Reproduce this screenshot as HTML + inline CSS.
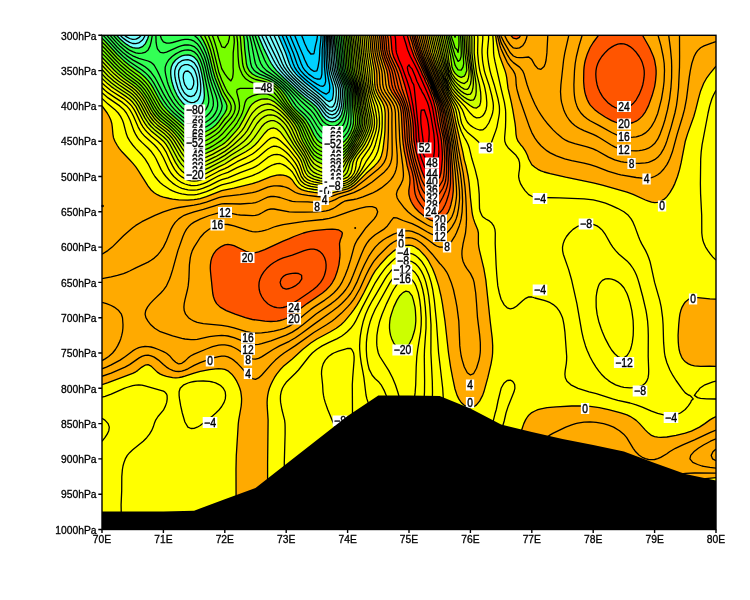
<!DOCTYPE html><html><head><meta charset="utf-8"><style>html,body{margin:0;padding:0;background:#fff}body{width:750px;height:600px;overflow:hidden;position:relative;font-family:"Liberation Sans",sans-serif}</style></head><body><svg width="750" height="600" viewBox="0 0 750 600" style="position:absolute;left:0;top:0;will-change:transform">
<defs><clipPath id="c"><rect x="102" y="35.3" width="614" height="494.2"/></clipPath></defs>
<g clip-path="url(#c)">
<rect x="102" y="35.3" width="614" height="494.2" fill="#0000ff"/>
<path fill="#00d2ff" fill-rule="evenodd" stroke="#00d2ff" stroke-width="0.6" d="M102,35.3 716,35.3 716,529.5 102,529.5 102,35.3Z"/>
<path fill="#77ffff" fill-rule="evenodd" stroke="#77ffff" stroke-width="0.6" d="M102,35.3 278.2,35.3 285.7,53 289.3,63.5 290.9,67.1 293.2,70.6 296.1,74.1 298.5,76.6 304.6,82.2 320.8,95.3 326.1,100 329.2,101.6 332.2,99.7 332.5,98.8 333.2,95.3 333.5,91.8 333.4,88.2 332.8,84.7 329.6,74.1 328.5,67.1 327.9,60 327.6,52.9 327.7,42.4 327.4,35.3 716,35.3 716,529.5 102,529.5 102,35.3Z"/>
<path fill="#33ff55" fill-rule="evenodd" stroke="#33ff55" stroke-width="0.6" d="M102,35.3 116.6,35.3 120.4,39.3 123.5,42 126.6,44.4 129.6,46.3 132.7,47.6 135.8,48.2 138.8,48.1 141.9,46.9 143.2,45.9 145,44.1 146,42.4 147.7,38.8 148.8,35.3 258.1,35.3 264.2,49.4 269.4,60 271.3,63.5 273.8,67.1 276.6,70.6 283.7,77.7 298.6,91.8 304.6,97 311.7,102.4 315.7,105.9 318.6,109.4 323,116.3 326.1,119.6 329.2,121.3 332.2,121.9 335.3,121.3 338.4,119.3 340.4,116.5 341.5,114.5 342.9,109.4 343.8,102.4 344.3,95.3 344.3,91.8 343.9,88.2 343,84.7 338.9,74.1 337.9,70.6 337.3,67.1 334.3,35.3 716,35.3 716,529.5 102,529.5 102,35.3ZM181.8,55.9 178.8,57.5 175.6,60 172.8,63.5 171.3,67.1 170.7,70.6 170.7,74.1 171.1,77.7 171.8,81.2 172.8,84.7 173.9,88.2 175.4,91.8 177.1,95.3 179.4,98.8 182.2,102.4 184.9,104.9 186.3,105.9 188,107 191,108.3 194.1,108.8 197.2,108.3 200.2,106.5 200.9,105.9 203.1,102.4 204.1,98.8 204.4,95.3 204,88.2 203.1,81.2 201.8,74.1 200.2,67.4 198.7,63.5 197.2,60.5 194.1,57.1 191,55.5 188,54.9 184.9,55.1 181.8,55.9Z"/>
<path fill="#77ff00" fill-rule="evenodd" stroke="#77ff00" stroke-width="0.6" d="M102,38.8 102,38.2 105.1,41.2 117.3,54.5 123.5,60.4 129.6,65.5 141.4,74.1 145.3,77.7 148.1,80.6 151.1,84.8 154.2,89.9 160.3,101.2 163.4,105.9 166.4,109.4 169.9,113 184.9,126.2 188,128.8 191,130.9 194.1,132.4 197.2,133.1 200.2,133.1 203.3,132.5 206.4,131.3 209.4,129.7 212.5,127.7 215.6,125.2 218.7,121.7 224.8,113 226.6,109.4 227,105.9 225.8,102.4 221.7,94.7 215,77.7 213,70.6 209.6,56.5 207.4,49.4 206,45.9 203.3,40.4 200.2,35.3 243.6,35.3 244.1,38.8 244.8,49.4 246.4,63.5 247.3,67.1 249.4,71 252.4,74 255.5,75.8 258.6,77 267.8,80 270.9,81.5 273.9,83.3 276,84.7 280.1,88.2 283.2,91.8 285.8,95.3 292.3,105.9 295.4,109.5 302.8,116.5 305.9,120 308.2,123.6 310.2,127.1 313.8,134.6 316.9,139.5 318.6,141.2 320,142.4 323,143.9 326.1,144.9 329.2,145.3 332.2,145.4 335.3,145 338.4,144.4 341.5,143.2 344.5,141.3 347.6,137.6 350.7,132.3 352.6,127.1 353.4,123.5 353.6,120 353.4,116.5 352.5,105.9 352.4,95.3 352.2,91.8 351.8,88.2 350.9,84.7 347.1,74.1 346.1,70.6 345.5,67.1 343.9,45.9 342.8,35.3 716,35.3 716,529.5 102,529.5 102,38.8Z"/>
<path fill="#ccff00" fill-rule="evenodd" stroke="#ccff00" stroke-width="0.6" d="M351.1,35.3 446,35.3 450.6,56.5 452,67.3 453.3,70.6 455,73.2 458.1,76.1 461.2,77.4 464.3,76.2 465.5,74.1 466.8,70.6 466.3,63.5 464.9,53 464.5,42.4 464,35.3 716,35.3 716,529.5 102,529.5 102,57.2 114.3,70.2 118.4,74.1 123.5,78.2 132.7,84.7 135.8,87.2 138.8,90.1 141.9,93.8 145,98.3 151.1,109.6 153.2,113 155.8,116.5 160.3,121 168,127.1 172.6,131.3 175.2,134.1 178.1,137.7 184.9,147.2 188,150.6 191,153.1 194.1,154.5 197.2,155 200.2,154.9 203.3,154.2 206.4,153.2 212.5,150.4 222.1,144.7 224.8,142.9 227.9,140 236.4,130.6 239.2,127.1 243.2,120.1 249.4,107.9 250.7,105.9 252.4,103.9 255.5,101.6 258.6,100.2 261.6,99.2 264.3,98.8 267.8,99 270.9,100 273.9,101.6 277,104 280.1,106.7 286.2,113.1 292.1,120 294.7,123.6 296.8,127.1 298.5,130.6 301.2,137.7 302.8,141.2 310.8,155.1 313.8,159 316.9,161.3 320,162.9 323,164.1 326.1,164.9 329.2,165.2 332.2,164.9 335.3,164 338.4,162.4 341.5,160.3 344.5,157.3 347.6,153.6 350.7,149.4 353.8,144.7 357.6,137.7 361,130.6 362.1,127.1 362.8,123.5 362.9,120 362.5,116.5 360.7,105.9 359.6,95.3 358.6,88.2 354.5,70.6 354.1,67.1 352,42.4 351.1,35.3Z"/>
<path fill="#ffff00" fill-rule="evenodd" stroke="#ffff00" stroke-width="0.6" d="M360,35.3 436.5,35.3 441.3,56.5 443.9,67.1 446.1,74.1 448.6,81.2 452,88.3 455.1,92.3 458.1,95.6 464.3,101.2 470.4,105.8 473.5,107.6 476.5,108.1 479.6,105.8 480.6,102.4 480.9,98.8 480.8,95.3 480.6,91.8 479.4,84.7 476.5,72.6 474.9,60 474.2,52.9 474.4,38.8 474.2,35.3 716,35.3 716,529.5 102,529.5 102,78.4 108.1,84.1 111.2,86.6 114.3,88.8 126.6,96.9 129.6,99.3 132.7,102.3 135.8,106.4 142.8,120 145,123.7 147.5,127.1 151.1,130.9 154.2,133.6 159.4,137.7 163.4,141.2 166.2,144.7 168.4,148.3 175.4,162.4 178.8,167.6 181.8,171 184.9,173.4 188,175 191,176.1 194.1,176.5 197.2,176.3 200.2,175.7 203.3,174.6 206.4,173.3 218.7,166.9 224.8,164 234,158.1 245.7,151.8 251.1,148.3 255.2,144.7 258.4,141.2 264.7,133.2 267.8,130 270.9,128.4 273.9,128 277,129.2 280.1,131.7 283.1,135.6 298.5,156.3 300.1,158.8 301.5,161.6 304.1,169.4 305.6,173 307.7,176 310.8,177.9 313.8,179.2 316.6,180 320,180.8 326.1,181.6 329.2,181.7 332.2,181.5 335.3,181.1 340.8,180 344.5,178.7 347.6,177.1 348.3,176.5 350.7,173.2 351.8,169.4 353,162.4 354.5,158.8 356.8,155.2 362.2,148.3 364.6,144.7 368.1,137.7 369.6,134.1 370.9,130.6 371.8,127.1 372.2,123.6 372.1,120 371.7,116.5 366.7,91.8 365,81.2 361.6,52.9 360,35.3ZM402.9,292.6 399.8,295.7 397,300.1 393.7,307.1 391.3,314.2 390.3,317.7 389.8,321.2 389.5,324.8 389.5,328.3 389.9,331.8 390.6,335.4 391.8,338.9 393.6,342.8 396.7,346.9 399.8,349.1 402.9,349.6 405.9,348.1 409,344.5 412.1,338.5 414.2,331.8 415,328.3 415.5,324.8 415.8,321.2 415.8,317.7 415.4,310.6 415,307.1 413.4,300.1 412.1,295.9 409,291.9 405.9,291.2 402.9,292.6Z"/>
<path fill="#ffaa00" fill-rule="evenodd" stroke="#ffaa00" stroke-width="0.6" d="M369.5,35.3 427,35.3 429.3,45.9 431,52.9 435.7,67.1 439.7,77.7 443.9,88.2 445.4,91.8 450.6,102.4 453.3,109.4 454.1,113 456.1,123.5 462.8,151.8 464.3,159.8 466,165.9 468.2,176.5 469.2,183.6 470.4,197.5 472,211.8 473.5,218.9 474.7,222.4 477.6,229.4 478.4,233 478.4,243.6 478.8,247.1 479.5,250.6 483.8,268.3 485.1,275.3 486.1,282.4 490.2,321.2 492.3,338.9 492.7,345.9 492.8,349.5 492.3,356.5 491.1,363.6 489.6,370.6 485.8,385.5 483.9,391.8 482.7,395.2 480.9,398.9 479.6,401.1 476.5,404.9 473.5,407 470.4,407.6 467.3,406.9 464.3,405.3 461.2,402.5 458.8,398.9 457.1,395.4 455,389 452.6,377.7 450.6,367.1 448.5,353 445,321.2 442.4,303.6 441.1,296.5 438.6,285.9 437.5,282.4 435.2,275.3 432.4,268.3 428.7,261.2 426.3,257.7 424.3,255.2 420,250.6 418.2,249.1 415.1,247 412.1,245.6 409,245.1 405.9,245.3 402.9,246 400.1,247.1 396.7,248.9 393.6,251.1 390.6,253.7 387.5,256.5 380,264.8 375.2,270.9 372.2,275.9 363.7,293 359.9,300.1 356.8,305.3 353.7,309.8 350.7,313.9 344.5,321.4 341,324.8 338.4,326.9 335.3,329 330.4,331.8 316.9,339 311.6,342.4 306.9,345.9 302.6,349.5 292.3,358.9 282.6,367.1 279.4,370.6 276.7,374.2 274.4,377.7 272.5,381.2 269.4,388.3 268.4,391.8 267.7,395.4 267.3,398.9 267.2,405.9 268.1,420.1 267.6,462.4 267.6,529.5 236.2,529.5 236,469.5 236.3,455.4 238.3,423.6 238.7,420.1 241.2,406 241.5,402.4 241.6,398.9 241.3,395.4 240.8,391.8 239.8,388.3 238.4,384.8 236.7,381.2 234.5,377.7 231.8,374.2 227.9,370.8 224.8,369.4 221.7,368.8 218.7,368.7 215.6,368.8 209.4,369.6 200.2,371.4 194.1,373.1 184.9,376.2 181.8,377 178.8,377.6 175.7,377.8 172.6,377.6 166.5,376.3 163.4,375.4 160.3,374.1 157.3,372.1 151.1,366.1 148.1,364.7 145,365.2 141.9,367.1 137.6,370.6 135.8,371.8 132.7,373.3 108.1,382.6 102,384.6 102,105.9 107.2,113 109.2,116.5 110.8,120 111.8,123.5 112.3,127.1 112.9,134.1 113.5,137.7 114.9,141.2 117.3,145.5 119.2,148.3 122,151.8 129.6,159.7 132.7,163.1 135.8,166.9 138.8,171.3 148.1,186.1 151.1,190 154.2,192.8 157.3,194.7 160.3,196.1 163.4,197.1 169.5,198.5 172.6,199.1 178.8,199.8 188,200.1 194.1,199.7 197.2,199.2 200.2,198.6 206.4,196.7 221.7,190.6 234,188.2 252.4,183.7 258.6,181.6 267.8,177.8 270.9,176.7 273.9,175.8 277,175.1 280.1,174.9 283.1,175.2 286.2,175.9 289.3,177.3 292.3,180 294.7,183.6 297.7,187.1 298.5,187.7 301.5,189.6 304.6,190.7 307.7,191.4 313.8,192.4 320,193.1 326.1,193.4 329.2,193.2 332.2,192.8 344.5,189.7 347.6,188.8 350.7,187.4 353.7,185.4 356.8,182.8 366,173.6 374.5,165.9 377.8,162.4 380.1,158.8 381.4,155.7 382.4,151.8 383.1,148.3 384.4,137.7 385,130.6 385.2,116.5 385.2,113 384.8,109.4 384,105.9 382.4,102.4 378.2,95.3 376.5,91.8 375.3,88.2 374.8,84.7 374.6,81.2 374.4,74.1 374.2,70.6 371.1,52.9 370,38.8 369.5,35.3ZM495.6,35.3 716,35.3 716,66.1 709.9,73.6 706.9,77.7 703.7,83.2 701.6,88.2 699.3,95.3 695.8,109.4 693.8,116.5 687.5,134.1 685.3,141.2 680.4,165.9 679.2,171 677.5,176.5 674.8,183.6 673,187.4 669.9,192.7 666.9,196.6 663.8,199.4 660.7,201.3 657.7,202.4 654.6,202.6 651.5,202.2 648.5,201.2 645.4,200 632.8,194.1 627,192.1 596.3,183.6 587.1,181.6 568.6,177.9 550.2,173.7 544.1,172 541,170.8 537.9,169.3 534.9,167.3 531.8,164.7 528.7,159 527.4,155.3 525.7,151.7 522.6,146.9 520.6,144.7 518,141.2 516.6,137.7 516,134.1 515.5,127.1 515.1,123.6 512.7,109.4 511.3,102.4 508,88.2 506.7,77.7 506,74.1 505,70.6 499.8,56.5 498.9,52.9 496.6,42.4 495.6,35.3ZM687.5,300.1 688.4,299.4 691.4,298.1 694.5,297.6 697.6,297.6 709.9,298.9 716,299.1 716,366.4 709.9,366.2 697.6,366.1 694.5,365.8 691.4,365.1 688.4,363.9 685.3,361.7 683.7,360.1 681.4,356.5 680,353 679.2,349.6 678.3,342.4 678.1,338.9 678.2,331.8 679.2,319.5 679.9,314.2 680.8,310.6 682.1,307.1 684.1,303.6 685.3,302 687.5,300.1ZM571.8,405.9 584,406 590.1,406.4 596.3,407.2 608.5,409.7 617.8,412 623.9,413.8 627,414.9 630,416.3 633.1,418.2 635.8,420.1 639.6,423.6 645.4,430.1 648.5,433.1 651.5,435.4 654.6,436.6 657.7,437.2 660.7,437.4 663.8,437.3 669.9,436.5 679.2,434.7 688.4,432.2 692.4,430.7 699.5,427.1 704.8,423.6 709.9,419.9 712.9,418.1 716,416.6 716,477.6 700.7,479.2 695.3,480.1 691.4,481 688.4,482.1 685.3,483.5 682.2,485.9 681.1,487.1 679,490.7 677.9,494.2 677.4,497.7 677.1,501.3 677,508.3 677.9,529.5 513.7,529.5 513.6,501.3 513.8,480.1 514.2,469.5 514.7,462.4 516.2,451.8 518.5,441.2 520.4,434.2 522.5,427.1 523.8,423.6 525.4,420.1 528.7,415.3 531.3,413 534.9,411 538.8,409.5 544.1,408.2 550.2,407.3 559.4,406.6 571.8,405.9Z"/>
<path fill="#ff5500" fill-rule="evenodd" stroke="#ff5500" stroke-width="0.6" d="M379.4,35.3 417.1,35.3 420.9,49.4 423.3,56.5 436.6,89.7 442.2,102.4 443.5,105.9 445.3,113 450.6,144.7 452.8,173 453.3,183.6 453.3,190.6 453,194.1 451.8,201.2 449.8,208.3 448.9,210.5 448.3,211.8 445.7,215.3 442.8,218.3 439.7,220.3 436.6,221.1 433.6,221.1 430.5,220.2 427.4,218.5 424.3,216.3 418.8,211.8 415.4,208.3 412.9,204.7 411,201.2 409.7,197.7 408.9,194.1 408.8,190.6 409.8,183.6 410,180 409.7,176.5 409,172.7 407.2,165.9 405.9,158.7 404.4,151.8 403.3,144.7 402.6,137.7 401.5,116.5 401.3,113 400.7,109.4 400,105.9 398.3,102.4 396.3,98.8 391.6,91.8 389.9,88.2 388.9,84.7 387.6,74.1 386.9,70.6 382.2,56.5 381.4,52.9 380.8,49.4 379.9,38.8 379.4,35.3ZM510.6,35.3 520.6,35.3 519.5,37.3 516.5,38.8 513.4,38.2 510.6,35.3ZM596,38.8 598.5,35.3 642.5,35.3 648.5,45.7 650.4,49.4 652,52.9 654.5,60 655.3,63.5 655.8,67.1 656.1,70.6 655.9,77.7 655.5,81.2 654.6,86.6 653.3,91.8 651.5,97.5 648.5,105.6 646.7,109.4 644.6,113 642.3,116.1 639.2,119.1 636.2,121.2 633.1,122.5 630,123.4 627,123.9 623.9,124 620.8,123.8 617.8,123 614.7,121.9 611.6,120.6 604.3,116.5 599,113 594.4,109.4 591,105.9 590.1,104.8 588.6,102.4 587.1,99.2 585.7,95.3 584.8,91.8 583.8,84.7 583.6,81.2 583.6,74.1 584.1,67.1 585.4,60 586.4,56.5 587.7,52.9 590.1,47.5 593.2,42.5 596,38.8ZM326.7,229.4 332.2,229.2 335.3,229.3 338.4,229.8 341.5,231.7 342.4,233 341.7,236.5 340.3,240 339.5,243.6 340,254.2 339.8,257.7 338.9,264.8 337.1,271.8 335.3,276.7 334.4,278.9 332.2,282.8 330,285.9 326.1,290 322.5,293 307.1,303.6 292.3,314.7 289.3,316.8 286.2,318.5 283.1,319.7 280.1,320.5 277,321.1 273.9,321.4 270.9,321.5 264.9,321.2 252.4,319.5 245.4,317.7 235.2,314.2 226.3,310.6 220.2,307.1 216.6,303.6 214.6,300.1 213.4,296.5 212.7,293 210.5,271.8 210.3,268.3 210.4,264.8 210.9,261.2 211.8,257.7 213.4,254.2 216,250.6 218.7,248.3 220.4,247.1 221.7,246.3 224.8,244.9 227.9,244.4 230.9,244.8 234,245.7 246.3,251.5 249.4,252.4 252.4,252.8 255.5,252.6 258.6,251.9 264.7,249.6 283.1,241.1 289.3,238.7 294,236.5 303.5,233 307.7,231.9 313.8,230.7 326.7,229.4Z"/>
<path fill="#ff0000" fill-rule="evenodd" stroke="#ff0000" stroke-width="0.6" d="M390.4,35.3 407.3,35.3 410.3,45.9 414.1,56.5 421.3,71.5 422.2,74.1 424.4,78.3 425.4,81.2 427.4,85.2 430.5,92.7 433.6,101.3 435.6,109.4 437.9,123.5 439.7,131.2 441.5,141.2 442.3,151.8 442.4,158.8 441.4,169.4 440.9,173 440,176.5 439.7,177.3 436.6,180.9 433.6,182.7 430.5,182.6 427.4,180.6 424.3,177.2 421.3,169.7 418.2,159.7 415.3,148.3 414.1,141.2 413.7,137.7 413.3,127.1 413,123.5 412.1,116.5 410.1,105.9 408.4,98.8 404.6,84.7 401.3,74.1 398.6,67.1 393.6,56.9 392.4,52.9 391.8,49.4 391,38.8 390.4,35.3Z"/>
<path fill="none" stroke="#000" stroke-width="1.3" stroke-linejoin="round" d="M301.5,35.3 303,38.8 304.6,43.3 307.7,50 310.8,54 313.8,53.9 314.1,52.9 315.4,45.9 316.9,40 317.5,35.3M294.6,35.3 298.5,45 303.5,56.5 304.6,59.5 307.7,65.9 310.8,69.4 313.8,71.3 316.9,70.8 318,67.1 319.2,60 319.7,52.9 319.8,49.4 320.9,38.8 321.1,35.3M289.9,35.3 297.3,53 301.1,63.5 302.7,67.1 304.6,70 308.6,74.1 313.8,77.8 316.9,79 320,79.1 321.1,77.7 321.9,74.1 322.2,49.4 323,41.1 323.1,35.3M285.9,35.3 293.3,53 296.9,63.5 298.4,67.1 300.6,70.6 304.6,75 307.7,77.8 312.4,81.2 316.9,84.1 320,85.8 323,86.3 324.8,84.7 325.7,81.2 325.5,77.7 324.5,67.1 324.2,56.5 324.2,49.4 324.7,38.8 324.6,35.3M282.1,35.3 289.5,52.9 293.1,63.5 294.6,67.1 296.8,70.6 299.7,74.1 301.5,76 307.7,81.4 320,90.7 323,92.7 326.1,94.2 329.2,91.9 329.8,88.2 329.6,84.7 327.5,74.1 326.6,67.1 325.9,52.9 326.3,42.4 326.1,35.3M278.2,35.3 285.7,53 289.3,63.5 290.9,67.1 293.2,70.6 296.1,74.1 298.5,76.6 304.6,82.2 320.8,95.3 326.1,100 329.2,101.6 332.2,99.7 332.5,98.8 333.2,95.3 333.5,91.8 333.4,88.2 332.8,84.7 329.6,74.1 328.5,67.1 327.9,60 327.6,52.9 327.7,42.4 327.4,35.3M274,35.3 281.8,52.9 285.7,63.5 287.5,67.1 289.8,70.6 292.7,74.1 296.1,77.7 299.9,81.2 307.7,88 316.9,95.2 320,97.9 324.5,102.4 326.1,104.2 329.2,106.8 332.2,107.1 333.5,105.9 335.3,101.9 336.2,95.3 336.3,91.8 336.1,88.2 335.3,84.7 331.7,74.1 330.8,70.6 330.3,67.1 329.4,56.5 329.2,42.4 328.7,35.3M132.7,35.3 132.7,35.3M269.7,35.3 277.9,52.9 282.3,63.5 284.2,67.1 286.7,70.6 289.6,74.1 293,77.7 301.5,85.7 307.7,91 313.8,95.6 317.8,98.8 321.4,102.4 326.1,108 329.2,110.6 332.2,111.3 335.3,109.4 336.9,105.9 337.7,102.4 338.3,98.8 338.6,95.3 338.7,91.8 338.4,88.2 337.4,84.7 333.6,74.1 332.7,70.6 332.1,67.1 331.4,60 330.9,52.9 330.6,42.4 330,35.3M184.9,71.5 183.5,74.1 183.2,77.7 183.8,81.2 184.8,84.7 187.1,88.2 188,89.1 191,89.4 192.1,88.2 193.6,84.7 193.8,81.2 193,77.7 191,73.4 188,71 184.9,71.5M124.3,35.3 126.6,36.9 129.6,38.5 132.7,39.4 135.8,39.2 136.6,38.8 138.8,37.7 141.3,35.3M265.5,35.3 268.7,42.4 279,63.5 281.1,67.1 283.6,70.6 286.6,74.1 290,77.7 301.5,88.6 307.7,93.7 314.5,98.8 318.5,102.4 321.7,105.9 326.1,111.7 329.2,114.1 332.2,114.9 335.3,113.7 336,113 338.4,109.3 339.3,105.9 339.9,102.4 340.6,95.3 340.6,91.8 340.3,88.2 339.4,84.7 335.4,74.1 334.5,70.6 333.9,67.1 333.1,60 332,42.4 331.4,35.3M181.8,66 180.7,67.1 178.8,70.6 178.5,74.1 178.8,77.7 180.5,84.7 181.8,88.4 183.7,91.8 184.9,93.4 188,96 191,96.6 194.2,95.3 196.4,91.8 197.2,89.4 197.7,84.7 197.5,81.2 197.1,77.7 196.1,74.1 194.8,70.6 194.1,69.2 192.2,67.1 191,66 188,64.7 184.9,64.7 181.8,66M120.1,35.3 123.5,38.4 126.6,40.6 129.6,42.4 132.7,43.5 135.8,43.7 138.8,42.9 141.9,40.6 143.3,38.8 145.3,35.3M261.6,35.3 267.8,48.7 273.5,60 275.4,63.5 277.7,67.1 280.4,70.6 283.5,74.1 286.9,77.7 301.5,91.5 307.7,96.5 313.8,101.1 316.9,103.8 318.9,105.9 323,111.7 326.1,115.5 329.2,117.6 332.2,118.3 335.3,117.5 338.4,114.6 339.4,113 340.7,109.4 341.5,105.9 342.5,95.3 342.5,91.8 342.2,88.3 341.3,84.7 337.2,74.1 336.2,70.6 335.6,67.1 334.8,60 333.6,42.4 332.8,35.3M184.9,59.8 181.8,60.7 178.8,62.8 178,63.5 175.8,67.1 174.8,70.6 174.7,74.1 175.1,77.7 175.8,81.2 177.9,88.2 179.4,91.8 181.8,95.9 184.3,98.8 184.9,99.4 188,101.6 191,102.6 194.1,102.4 197.2,100.6 198.5,98.8 200,95.3 200.2,94.2 200.6,91.8 200.8,88.2 200.7,84.7 200.2,79.8 199.2,74.1 198.3,70.6 197.2,67.3 194.1,62.7 191,60.6 188,59.7 184.9,59.8M116.6,35.3 120.4,39.3 123.5,42 126.6,44.4 129.6,46.3 132.7,47.6 135.8,48.2 138.8,48.1 141.9,46.9 143.2,45.9 145,44.1 146,42.4 147.7,38.8 148.8,35.3M258.1,35.3 264.2,49.4 269.4,60 271.3,63.5 273.8,67.1 276.6,70.6 283.7,77.7 298.6,91.8 304.6,97 311.7,102.4 315.7,105.9 318.6,109.4 323,116.3 326.1,119.6 329.2,121.3 332.2,121.9 335.3,121.3 338.4,119.3 340.4,116.5 341.5,114.5 342.9,109.4 343.8,102.4 344.3,95.3 344.3,91.8 343.9,88.2 343,84.7 338.9,74.1 337.9,70.6 337.3,67.1 334.3,35.3M181.8,55.9 178.8,57.5 175.6,60 172.8,63.5 171.3,67.1 170.7,70.6 170.7,74.1 171.1,77.7 171.8,81.2 172.8,84.7 173.9,88.2 175.4,91.8 177.1,95.3 179.4,98.8 182.2,102.4 184.9,104.9 186.3,105.9 188,107 191,108.3 194.1,108.8 197.2,108.3 200.2,106.5 200.9,105.9 203.1,102.4 204.1,98.8 204.4,95.3 204,88.2 203.1,81.2 201.8,74.1 200.2,67.4 198.7,63.5 197.2,60.5 194.1,57.1 191,55.5 188,54.9 184.9,55.1 181.8,55.9M113.3,35.3 117.3,39.8 120.4,42.9 123.5,45.7 126.6,48.1 129.6,50.2 132.7,51.7 135.8,52.8 138.8,53.3 141.9,53.2 145,52.4 148.1,49.9 150.1,45.9 151.1,41.8 152.3,35.3M255,35.3 260.3,49.4 264.6,60 266.4,63.5 268.8,67.1 272,70.6 286.2,82.9 301.5,97.7 311.6,105.9 313.8,108.1 316.9,112.1 320,117.2 321.9,120 323,121.5 326.1,124 329.2,125.4 332.2,126.1 335.3,125.8 338.4,124.3 341.5,120.9 341.9,120 343.4,116.5 344.5,112.6 345.1,109.4 345.4,105.9 346.1,95.3 346,91.8 345.6,88.2 344.7,84.7 340.6,74.1 339.6,70.6 338.9,67.1 336.7,42.4 335.9,35.3M178.8,52.2 175.7,53.9 172.1,56.5 168.6,60 166.5,63.5 165.2,67.1 165.1,70.6 165.6,74.1 167.2,81.2 168.3,84.7 171.1,91.8 172.9,95.3 174.9,98.8 178.8,104.1 181.8,107.4 184.9,110 188,112 191,113.5 194.1,114.3 197.2,114.3 200.2,113.6 203.3,111.9 205.9,109.4 207.8,105.9 208.7,102.4 208.8,98.8 207.8,91.8 203.6,70.6 202.7,67.1 201.6,63.5 200.2,59.9 198.3,56.5 197.2,54.7 194.1,51.8 191,50.4 188,50 184.9,50.2 181.8,50.9 178.8,52.2M110,35.3 116.3,42.4 120.4,46.6 126.6,51.9 129.6,54 132.7,55.8 135.8,57.2 138.8,58.3 148.1,61 151.1,62.4 152.5,63.5 154.2,65.3 157.3,70.7 158.9,74.1 165.1,88.2 168.6,95.3 172.6,101.9 175.6,105.9 178.8,109.4 181.8,112.1 184.9,114.5 188,116.6 191,118.2 194.1,119.2 197.2,119.5 200.2,119.2 203.3,118.1 206.4,116.2 209.4,113.3 212,109.4 213.2,105.9 213.4,102.4 213,98.8 212.2,95.3 208.3,81.2 205.2,67.1 204.2,63.5 203.1,60 200.2,53.6 197.2,49.2 194.1,46.6 191,45.3 188,44.8 184.9,45 181.8,45.6 178.8,46.6 166.5,52.1 163.4,52.9 160.3,52.4 157.8,49.4 157.3,48.3 156.7,45.9 156.1,42.4 155.9,35.3M252.3,35.3 259.5,60 260.8,63.5 263,67.1 266.5,70.6 273.9,75.7 280.1,80.4 283.1,83 288.7,88.2 301.5,101.6 310.1,109.4 313.8,113.7 320,123.5 323,126.9 326.1,129.2 329.2,130.5 332.2,131.1 335.3,130.9 338.4,129.9 341.8,127.1 344,123.6 345.3,120 346.1,116.5 346.7,113 347.1,109.4 347.7,95.3 347.7,91.8 347.2,88.2 346.3,84.7 342.2,74.1 341.2,70.6 340.2,63.5 339.4,52.9 337.6,35.3M106.7,35.3 117.3,47.2 123.5,53.1 126.6,55.6 132.7,59.9 141.9,64.9 145,66.8 148.1,69.2 151.1,72.3 155,77.7 157.3,81.7 163.4,93.6 166.5,98.8 171.3,105.9 174.4,109.4 178.1,113 181.8,116.2 188,120.8 191,122.6 194.1,123.8 197.2,124.3 200.2,124.1 203.3,123.2 206.4,121.8 209.4,119.7 212.9,116.5 215.4,113 217,109.4 217.7,105.9 217.6,102.4 216.9,98.8 215.9,95.3 212.5,86.3 210.9,81.2 209.4,76 206.4,62.5 204.5,56.5 203.3,53.6 200.2,47.7 197.2,43.7 194.1,41.2 191,39.9 188,39.4 184.9,39.4 181.8,39.9 172.6,42.5 169.5,43.1 166.5,43.1 163.4,41.8 161.4,38.8 160.2,35.3M249.6,35.3 251.3,42.4 254.6,60 255.4,63.5 257.1,67.1 260.4,70.6 266.1,74.1 270.9,76.6 273.9,78.5 280.1,83.1 283.1,85.8 289.1,91.8 292.1,95.3 298.5,103.4 300.8,105.9 307.7,112.5 310.8,115.8 313.6,120 316.9,125.5 320.5,130.6 323,133.1 326.1,135.1 329.2,136.1 332.2,136.4 335.3,136.1 338.4,135.1 341.5,133.4 344.3,130.6 346.4,127.1 347.6,123.8 348.3,120 348.7,116.5 348.9,113 349.3,95.3 349.2,91.8 348.8,88.2 347.9,84.7 343.8,74.1 342.8,70.6 342.2,67.1 340.5,45.9 339.3,35.3M103,35.3 105.1,37.4 117.3,50.8 123.5,56.8 129.6,61.7 141.9,70 145,72.4 148.1,75.4 151.1,79 154.2,83.7 160.3,95.1 163.4,100.3 167.3,105.9 170.3,109.4 173.9,113 178.8,117.3 184.9,122.5 188,124.8 191,126.8 194.1,128.1 197.2,128.7 200.2,128.6 203.3,127.9 206.4,126.7 209.4,124.9 212.5,122.6 215.6,119.8 218.7,115.3 220,113 221.5,109.4 222.2,105.9 221.5,102.4 220.4,98.8 212.5,78.2 211.4,74.1 208.1,60 205.9,52.9 203.3,47 200.2,41.7 197.2,37.9 194.1,35.3M246.7,35.3 248,42.4 248.6,49.4 250.7,63.5 251.8,67.1 254.3,70.6 255.5,71.6 259.6,74.1 264.7,76.2 270.9,79.1 273.9,81 277,83.1 280.1,85.7 282.9,88.2 286.1,91.8 288.9,95.3 296,105.9 299.3,109.4 304.6,114.3 307.7,117.6 309.6,120 311.8,123.5 316.9,132.8 320,136.9 323,139.1 326.1,140.5 329.2,141.1 332.2,141.2 335.3,140.8 338.4,139.9 341.5,138.6 344.5,136.2 347.6,132.3 348.5,130.6 349.9,127.1 350.8,123.5 351.1,116.5 350.8,105.9 350.9,95.3 350.8,91.8 350.3,88.2 349.4,84.7 345.4,74.1 344.4,70.6 343.8,67.1 342.8,52.9 341.1,35.3M102,38.2 105.1,41.2 117.3,54.5 123.5,60.4 129.6,65.5 138.8,72.1 141.9,74.5 145,77.3 148.1,80.6 151.1,84.7 153.3,88.2 160.3,101.2 163.4,105.9 166.4,109.4 169.9,113 184.9,126.2 188,128.8 191,130.9 194.1,132.4 197.2,133.1 200.2,133.1 203.3,132.5 206.4,131.3 209.4,129.7 212.5,127.7 215.6,125.2 218.7,121.7 224.8,113 226.6,109.4 227,105.9 225.8,102.4 221.7,94.7 215,77.7 213,70.6 209.6,56.5 207.4,49.4 206,45.9 203.3,40.4 200.2,35.3M243.6,35.3 244.1,38.8 244.8,49.4 246.4,63.5 247.3,67.1 249.4,71 252.4,74 255.5,75.8 258.6,77 267.8,80 270.9,81.5 273.9,83.3 276,84.7 280.1,88.2 283.2,91.8 285.8,95.3 292.3,105.9 295.4,109.5 302.8,116.5 305.9,120 308.2,123.6 310.2,127.1 313.8,134.6 316.9,139.5 318.6,141.2 320,142.4 323,143.9 326.1,144.9 329.2,145.3 332.2,145.4 335.3,145 338.4,144.4 341.5,143.2 344.5,141.3 347.6,137.6 350.7,132.3 352.6,127.1 353.4,123.5 353.6,120 353.4,116.5 352.5,105.9 352.4,95.3 352.2,91.8 351.8,88.2 350.9,84.7 347.1,74.1 346.1,70.6 345.5,67.1 343.9,45.9 342.8,35.3M240,35.3 240.5,38.8 241.3,49.4 242.6,63.5 243.4,67.1 244.7,70.6 246.3,73 247.2,74.1 249.4,76.3 252.4,78.2 255.5,79.5 264.7,81.6 267.8,82.5 270.9,83.8 272.4,84.7 273.9,85.7 277.2,88.2 280.3,91.8 282.8,95.3 287.1,102.4 289.6,105.9 292.5,109.4 302.7,120 305.2,123.5 307.1,127.1 310.8,134.9 313.8,140.9 316.9,144.7 320,146.8 323,148.1 326.1,148.9 329.2,149.3 332.2,149.3 335.3,148.9 338.4,148.2 341.5,147.1 344.5,145.1 347.6,141.8 350.7,136.8 353.8,130.6 354.9,127.1 355.6,123.5 355.7,120 355.5,116.5 354.2,105.9 353.7,91.8 353.2,88.2 352.3,84.7 348.7,74.1 347.7,70.6 346.8,63.5 346.2,52.9 344.5,35.3M454.4,35.3 455,37.3 455.7,35.3M102,42 105.1,45 117.3,58.2 123.5,64.1 129.6,69.2 138.8,76 141.9,78.6 145,81.7 148.1,85.4 151.1,90 160.3,106.4 162.6,109.4 166.1,113 178,123.5 188,132.7 191,135.1 194.1,136.7 197.2,137.5 200.2,137.5 203.3,136.9 206.4,135.8 209.6,134.1 215.6,130.1 218.8,127.1 224.8,119 227.9,115.6 229.7,113 231.1,109.4 231.2,105.9 230,102.4 224.8,94.2 223.5,91.8 221.7,87.9 217.7,77.7 215.6,70.9 213.1,60 210.3,49.4 207.7,42.4 204.4,35.3M236.8,35.3 237.6,42.4 238.1,56.5 238.7,63.5 239.3,67.1 240.5,70.6 242.1,74.1 243.2,75.8 244.7,77.7 246.3,79.3 249.4,81.3 252.4,82.6 255.5,83.4 264.7,84.5 267.8,85.3 270.9,86.6 273.9,88.4 277.2,91.8 280.1,95.6 284.5,102.4 287.2,105.9 292.3,111.9 299.9,120 302.5,123.5 304.4,127.1 310.8,140.9 313.8,145.9 316.9,149 320,150.8 323,152 326.1,152.8 329.2,153.1 332.2,153 335.3,152.5 338.4,151.7 341.5,150.5 344.5,148.4 347.9,144.7 350.7,140.5 353.7,134.8 355.6,130.6 356.8,127.2 357.6,123.5 357.7,120 357.4,116.5 355.8,105.9 355.1,91.8 354.6,88.2 353.8,84.7 350.3,74.1 349.4,70.6 348.8,67.1 347.3,45.9 346.2,35.3M451.2,35.3 452,38.6 453.4,42.4 455,47.7 456.9,49.4 458.1,52.5 458.9,45.9 459,42.4 458.8,35.3M102,45.8 105.1,48.8 114.3,58.7 120.4,64.9 126.8,70.6 138.8,79.7 141.9,82.5 144,84.7 146.8,88.2 149.2,91.8 157.3,106.3 159.3,109.4 162.4,113 175.7,124.7 188,136.9 191,139.5 194.1,141.2 197.2,142 200.2,142.1 203.3,141.5 206.4,140.4 209.4,138.8 215.6,134.8 218.7,132.3 220.3,130.6 225.9,123.5 230.9,118 232,116.5 234,113 235.1,109.4 235.2,105.9 234.3,102.4 232.6,98.8 227.9,92.7 225.5,88.2 221.7,79.9 218.7,71.9 213.3,49.4 211.1,42.4 208.3,35.3M233.8,35.3 234.2,38.8 234.3,42.4 233.2,52.9 233.1,67.1 233.3,70.6 233.1,74.1 232.6,77.7 230.9,80.9 227.9,78.1 224.8,73.9 221.7,68.6 218.7,57.7 217.7,53 215.8,45.9 213.6,38.8 212.2,35.3M449.4,35.3 452,45.6 455,55.4 458.1,61.4 460,60 461.1,56.5 461.3,52.9 461,42.4 460.5,35.3M102,49.6 105.1,52.6 115.3,63.5 120.4,68.6 126.6,73.9 136.4,81.2 138.8,83.2 141.9,86.3 145,90 148.1,94.5 154.3,105.9 156.4,109.4 159,113 162.5,116.5 169.5,122.3 174.8,127.1 178.4,130.6 188,141.3 191,144 194.1,145.7 197.2,146.5 200.2,146.5 203.3,146 206.8,144.7 209.4,143.5 212.5,141.6 218.1,137.7 222.2,134.1 230.9,124.1 234,120.3 236.4,116.5 237.1,115.1 238.1,113 239.2,109.4 239.5,105.9 239.2,102.4 238.5,98.8 236.7,91.8 237.1,89.6 240.1,88.4 264.7,88.5 267.8,89 270.9,90.3 273.9,92.5 277,95.9 281.9,102.4 284.8,105.9 297.2,120 299.9,123.6 301.9,127.1 306.5,137.7 308.2,141.2 310.8,146 313.8,150.4 316.9,153.1 320,154.8 323,155.9 326.1,156.6 329.2,156.9 332.2,156.8 335.3,156.1 338.4,155.1 341.5,153.6 344.5,151.3 347.6,148.1 350.7,143.7 353.7,138.3 355.9,134.1 357.4,130.6 358.6,127.1 359.4,123.5 359.5,120 359.2,116.5 357.5,105.9 356.8,95.3 355.9,88.2 355.1,84.7 351.9,74.1 351.1,70.6 350.6,67.1 349,45.9 347.8,35.3M229.6,35.3 229.2,38.8 228.2,42.4 227.9,43.1 224.8,47.7 221.7,46.8 220.1,42.4 218.7,39.3 217.3,35.3M447.7,35.3 455,64.9 456.2,67.1 458.1,69.9 461.2,70.1 463,67.1 463.7,63.5 463,49.4 462.6,38.8 462.3,35.3M102,53.4 105.1,56.4 114.3,66.3 120.4,72.3 126.6,77.2 135.8,83.9 140.4,88.2 143.3,91.8 145.8,95.3 148.1,99 153.6,109.4 157.3,114.5 160.3,117.8 169.5,125.3 175.1,130.6 178.4,134.1 184.9,142.4 188,145.9 191,148.6 194.1,150.1 197.2,150.8 200.2,150.8 203.3,150.2 206.4,149.2 209.4,147.8 212.5,146.2 215.6,144.3 221.7,140.1 224.8,137.6 234,127.1 237.1,122.8 240.7,116.5 242.3,113 243.5,109.4 245.1,102.4 246.3,99.9 247.2,98.8 249.4,97.3 252.4,95.9 255.5,94.9 258.6,94.2 261.6,93.8 264.7,93.7 267.8,94.1 270.9,95.3 273.9,97.2 277,100.1 280.1,103.4 288.7,113 294.7,120 297.4,123.5 299.4,127.1 303.8,137.7 307.4,144.7 310.8,150.6 313.8,154.7 316.9,157.1 320,158.7 323,159.8 326.1,160.6 329.2,160.9 332.2,160.7 335.3,159.9 338.4,158.5 341.5,156.8 344.5,154.3 347.6,150.8 351.9,144.7 354,141.2 357.6,134.1 359.2,130.6 360.4,127.1 361.1,123.5 361.2,120 360.9,116.5 359.1,105.9 358.2,95.3 357.3,88.3 356.5,84.7 353.6,74.1 352.8,70.6 352.3,67.1 350.7,45.9 349.5,35.3M446,35.3 450.6,56.5 452,67.3 453.3,70.6 455,73.2 458.1,76.1 461.2,77.4 464.3,76.2 465.5,74.1 466.8,70.6 466.3,63.5 464.9,53 464.5,42.4 464,35.3M102,57.2 114.3,70.2 118.4,74.1 123.5,78.2 132.7,84.7 135.8,87.2 138.8,90.1 141.9,93.8 145,98.3 151.1,109.6 153.2,113 155.8,116.5 160.3,121 168,127.1 172.6,131.3 175.2,134.1 178.1,137.7 184.9,147.2 188,150.6 191,153.1 194.1,154.5 197.2,155 200.2,154.9 203.3,154.2 206.4,153.2 212.5,150.4 222.1,144.7 224.8,142.9 227.9,140 236.4,130.6 239.2,127.1 243.2,120.1 249.4,107.9 250.7,105.9 252.4,103.9 255.5,101.6 258.6,100.2 261.6,99.2 264.3,98.8 267.8,99 270.9,100 273.9,101.6 277,104 280.1,106.7 286.2,113.1 292.1,120 294.7,123.6 296.8,127.1 298.5,130.6 301.2,137.7 302.8,141.2 310.8,155.1 313.8,159 316.9,161.3 320,162.9 323,164.1 326.1,164.9 329.2,165.2 332.2,164.9 335.3,164 338.4,162.4 341.5,160.3 344.5,157.3 347.6,153.6 350.7,149.4 353.8,144.7 357.6,137.7 361,130.6 362.1,127.1 362.8,123.5 362.9,120 362.5,116.5 360.7,105.9 359.6,95.3 358.6,88.2 354.5,70.6 354.1,67.1 352,42.4 351.1,35.3M444.1,35.3 447.9,53 449.2,63.5 450.9,70.6 452,73.5 455,77.9 458.1,80.7 461.2,82.7 464.3,83.6 467.3,81.3 468.5,77.7 469,74.1 469.1,70.6 466.7,52.9 465.9,35.3M102,61.2 110.8,70.6 114.4,74.1 120.4,79.2 132.7,87.9 135.8,90.5 138.8,93.7 142.7,98.8 144.8,102.4 150.5,113 154.2,118.2 157.3,121.5 160.3,124.2 166.5,128.9 169.5,131.6 172,134.1 175,137.7 177.5,141.2 181.8,147.9 184.9,152.1 188,155.4 191,157.6 194.1,158.8 197.2,159.2 200.2,158.9 203.3,158.2 206.4,157.2 212.5,154.4 224.8,147.4 228.2,144.7 231.8,141.2 238.7,134.1 241.8,130.6 244.2,127.1 250,116.5 252.4,112.9 255.5,109.6 258.6,107.1 261.6,105.3 264.7,104.3 267.8,103.9 270.9,104.5 273.9,105.8 277,107.9 280.1,110.4 283.1,113.3 286.2,116.5 289.3,120.1 291.8,123.6 294,127.1 295.7,130.6 298.5,137.7 300.2,141.2 306.5,151.8 310.8,159.7 313.8,163.5 316.9,165.7 320,167.3 323,168.4 326.1,169.2 328.5,169.4 332.2,169.3 335.3,168.5 338.4,166.9 341.5,164.4 342.9,162.4 344.5,160.7 350.7,152.2 355.6,144.7 357.6,141.2 361.2,134.1 362.7,130.6 363.9,127.1 364.6,123.6 364.6,120 364.2,116.5 362.3,105.9 360.6,91.8 359.4,84.7 356.9,74.1 356.3,70.6 353.7,42.4 352.8,35.3M442.1,35.3 446,52.9 448.3,67.1 449.2,70.6 452,77.2 455,81.4 458.1,84.6 461.2,87.2 464.3,89.1 467.3,89.3 468.5,88.2 470.4,84.3 471,81.2 471.3,77.7 470.9,70.6 469.3,60 468.4,53 467.8,35.3M102,65.2 110.4,74.1 114.2,77.7 118.6,81.2 129.6,88.8 132.7,91.1 137,95.3 139.9,98.8 141.9,102 148.1,113.4 149.9,116.5 152.6,120 154.2,121.9 157.3,124.9 166.5,132.1 169.5,135 171.9,137.7 174.4,141.2 180.9,151.8 183.3,155.3 184.9,157.3 188,160.2 191,162.1 194.1,163.1 197.2,163.3 200.2,163 203.3,162.2 206.4,161.1 212.5,158.2 215.6,156.7 224.8,151.4 229.1,148.3 233.4,144.7 241.1,137.7 244.5,134.1 247.2,130.6 253.3,120 255.5,117.1 258.6,114.1 261.6,111.9 264.7,110.4 267.8,109.6 270.9,109.7 273.9,110.5 277,112.2 280.1,114.4 283.1,117.2 285.8,120 288.6,123.5 290.8,127.1 292.3,129.9 297.4,141.2 299.5,144.7 304.6,152.7 310.8,164.7 313.8,168.1 316.9,170 320,171.4 323,172.4 326.1,173.1 329.2,173.4 332.2,173.3 335.3,172.6 338.4,171.4 341.5,169.2 344.5,164.8 345.7,162.4 357.6,144.7 359.6,141.2 361.4,137.7 364.6,130.6 365.7,127.1 366.3,123.5 366.4,120 365.9,116.5 364,105.9 362.1,91.8 358.1,70.6 355.4,42.4 354.6,35.3M440.3,35.3 444.1,52.9 446.1,63.5 446.9,67.1 448.9,73.9 450.5,77.7 452,80.6 455,84.9 458.1,88.4 461.2,91.2 464.3,93.4 467.3,94.7 470.4,94.2 471.9,91.8 472.9,88.2 473.3,84.7 473.4,81.2 473.2,77.7 470,52.9 469.8,38.8 469.6,35.3M102,69.5 108.1,76 114,81.2 118.8,84.7 129.6,92.1 132.7,94.5 135.8,97.6 139.4,102.4 141.4,105.9 147,116.5 149.4,120 151.1,122.3 154.2,125.6 155.8,127.1 164.8,134.1 168.5,137.7 171.2,141.2 172.6,143.4 178.8,154.3 181.8,159 184.9,162.5 188,165 191,166.6 194.1,167.5 197.2,167.5 200.2,167.1 203.3,166.2 206.4,165 212.5,162.1 218.7,158.9 224.8,155.4 239.7,144.7 244,141.2 246.3,139 250.4,134.1 257,123.5 260,120 261.6,118.5 264.7,116.4 267.8,115.2 270.9,114.8 273.9,115.3 277,116.7 280.1,118.9 281.3,120 283.1,121.7 286.2,125.4 289.3,130.4 294.6,141.2 296.7,144.7 301.5,151.9 303.7,155.3 305.5,158.8 308.4,165.9 310.8,169.8 313.8,172.4 316.9,173.9 320,175 323,175.9 326.1,176.5 329.2,176.7 332.2,176.6 335.3,176.1 338.4,175.1 341.5,173.7 342.4,173 344.5,170.4 348,162.4 350,158.8 359.6,144.7 361.7,141.2 365.1,134.1 366.5,130.6 367.7,127.1 368.2,123.6 368.2,120 367.7,116.5 366,108.1 363.6,91.8 359.9,70.6 356.4,35.3M438.4,35.3 445.4,67.1 447.5,74.1 450.5,81.2 452,84.2 454.8,88.2 458.1,92 461.2,94.9 464.3,97.3 467.3,99.1 470.4,100.3 473.5,99.8 474.4,98.8 475.8,95.3 476.2,91.8 476.1,84.7 475.2,77.7 473.5,67 471.9,52.9 471.9,38.8 471.7,35.3M102,73.9 105.6,77.7 111.2,82.7 117.3,87.2 129.4,95.3 133.3,98.8 135.8,101.6 138.6,105.9 145,118.1 148.6,123.5 151.1,126.5 154.2,129.4 163.4,136.7 166.5,139.7 167.7,141.2 170.1,144.7 177.6,158.8 179.9,162.4 181.8,164.9 184.9,167.9 188,170 191,171.3 194.1,171.9 197.2,171.9 200.2,171.3 203.3,170.3 209.4,167.6 224.8,159.5 230.9,155.3 242.3,148.3 247.3,144.7 249.4,142.9 251.2,141.2 254.1,137.7 261.6,126.8 264.7,123.5 267.8,121.6 270.9,120.6 273.9,120.7 277,122 280.1,124.1 283.1,127.5 285.3,130.6 293.6,144.7 301.5,156.2 303,158.8 304.5,162.4 307,169.4 307.7,170.9 309.3,173 310.8,174.3 313.8,176.1 316.9,177.2 320,178.1 326.1,179.2 329.2,179.3 332.2,179.2 335.3,178.8 338.4,178.1 343.1,176.5 344.5,175.5 346.9,173 348.3,169.4 350.2,162.4 352.1,158.8 353.7,156.2 362,144.7 363.9,141.2 367.2,134.1 368.6,130.6 369.7,127.1 370.2,123.5 370.1,120 369.7,116.5 368.2,109.4 366,97.5 362.2,74.1 359.8,52.9 358.2,35.3M436.5,35.3 441.3,56.5 443.9,67.1 446.1,74.1 448.6,81.2 452,88.3 455.1,92.3 458.1,95.6 464.3,101.2 470.4,105.8 473.5,107.6 476.5,108.1 479.6,105.8 480.6,102.4 480.9,98.8 480.8,95.3 480.6,91.8 479.4,84.7 476.5,72.6 474.9,60 474.2,52.9 474.4,38.8 474.2,35.3M102,78.4 108.1,84.1 111.2,86.6 114.3,88.8 126.6,96.9 129.6,99.3 132.7,102.3 135.8,106.4 142.8,120 145,123.7 147.5,127.1 151.1,130.9 154.2,133.6 159.4,137.7 163.4,141.2 166.2,144.7 168.4,148.3 175.4,162.4 178.8,167.6 181.8,171 184.9,173.4 188,175 191,176.1 194.1,176.5 197.2,176.3 200.2,175.7 203.3,174.6 206.4,173.3 218.7,166.9 224.8,164 234,158.1 245.7,151.8 251.1,148.3 255.2,144.7 258.4,141.2 264.7,133.2 267.8,130 270.9,128.4 273.9,128 277,129.2 280.1,131.7 283.1,135.6 298.5,156.3 300.1,158.8 301.5,161.6 304.1,169.4 305.6,173 307.7,176 310.8,177.9 313.8,179.2 316.6,180 320,180.8 326.1,181.6 329.2,181.7 332.2,181.5 335.3,181.1 340.8,180 344.5,178.7 347.6,177.1 348.3,176.5 350.7,173.2 351.8,169.4 353,162.4 354.5,158.8 356.8,155.2 362.2,148.3 364.6,144.7 368.1,137.7 369.6,134.1 370.9,130.6 371.8,127.1 372.2,123.6 372.1,120 371.7,116.5 366.7,91.8 365,81.2 361.6,52.9 360,35.3M402.9,292.6 399.8,295.7 397,300.1 393.7,307.1 391.3,314.2 390.3,317.7 389.8,321.2 389.5,324.8 389.5,328.3 389.9,331.8 390.6,335.4 391.8,338.9 393.6,342.8 396.7,346.9 399.8,349.1 402.9,349.6 405.9,348.1 409,344.5 412.1,338.5 414.2,331.8 415,328.3 415.5,324.8 415.8,321.2 415.8,317.7 415.4,310.6 415,307.1 413.4,300.1 412.1,295.9 409,291.9 405.9,291.2 402.9,292.6M434.6,35.3 438.6,52.9 442.3,67.1 445.8,77.9 448.9,85.8 450.1,88.2 452,91.9 455,95.8 458.1,99.3 464.4,105.9 470.4,113.3 473.5,116.4 476.5,117.8 479.6,117.7 481.7,116.5 482.7,115.8 484.7,113 486.1,109.4 486.7,105.9 486.8,102.4 486.2,95.3 484.9,88.2 484,84.7 480.7,74.1 479.8,70.6 478.6,63.5 477.6,52.9 477.9,38.8 477.7,35.3M102,82.9 105.1,85.8 111.2,90.7 123.5,98.6 126.6,100.9 129.6,103.7 131.6,105.9 134,109.4 135.8,112.6 141,123.6 143.1,127.1 145,129.7 148.1,133.1 151.1,135.9 157.6,141.2 161.1,144.7 163.4,147.6 166,151.8 170.8,162.4 172.6,165.9 174.6,169.4 177.4,173 178.8,174.4 181.8,176.9 184.9,178.8 188,180.1 191,180.8 194.1,181.1 197.2,180.9 200.2,180.2 203.3,179.1 206.4,177.8 218.7,171.2 224.8,168.6 227.9,167.1 237.1,161.7 246.3,157.3 252.4,154 255.5,151.7 258.6,149.1 267.8,140.3 270.9,138.1 273.9,137.4 277,138.4 280.1,140.5 286.2,146.2 289.3,149.6 292.3,153.3 296.6,158.8 298.8,162.4 300.3,165.9 302.6,173 304.3,176.5 307.7,179.7 310.8,181 313.8,181.9 320,183.2 322.9,183.6 329.2,183.9 332.2,183.7 335.3,183.3 344.5,181.3 347.6,180.1 350.7,177.6 351.7,176.5 354.1,173 355.4,169.4 356,165.9 356.4,162.4 357.7,158.8 359.9,155.3 365.4,148.3 367.7,144.7 370.8,137.7 372.1,134.1 373.3,130.6 374.1,127.1 374.5,123.6 374.4,120 374.1,116.5 371,102.4 369.1,94.9 367.2,84.7 363.4,52.9 361.9,35.3M405.9,278 402.9,279.1 399.8,281.4 396.7,284.9 393.6,289.5 391.7,293 386.6,303.6 382.1,314.2 379.7,321.2 378.8,324.8 378,328.3 376.9,335.4 376.7,342.4 376.9,345.9 377.5,349.5 378.3,353 379.8,356.5 388.8,370.6 392.5,377.7 395.4,384.8 397.7,391.8 405.9,420.2 409,423.6 412.1,414.4 415.1,392.9 415.7,384.8 416.2,367.1 416.8,356.5 417.7,349.5 420.6,331.8 421.2,324.8 421.3,317.7 420.6,307.1 419.7,300 418.2,292.5 415.9,285.9 415.1,284.2 414,282.4 412.1,279.9 409,278.1 405.9,278M432.7,35.3 435.8,49.4 439.6,63.5 441.8,70.6 444.3,77.7 448.9,89.5 452,95.2 457.5,102.4 460,105.9 461.2,108.2 462.1,109.4 463.6,113 464.3,115.2 466.2,120 467.3,122 468.5,123.5 470.4,125.4 473.5,127.5 476.5,129 479.6,130 482.7,129.9 485.8,127.5 488.8,123 491.5,116.5 492.6,113 493.2,109.4 493.4,105.9 493.1,102.4 491.7,95.3 488.9,84.7 485.3,74.1 484.3,70.6 483,63.5 482.5,60 482,52.9 482,49.4 482.8,38.8 482.8,35.3M102,87.6 105.1,90.4 108.1,92.9 114.3,97.1 122.4,102.4 126.6,105.9 129.6,109.4 131.8,113 133.6,116.5 138.2,127.1 140.2,130.6 141.9,133.1 145,136.6 154.2,144.8 157.4,148.3 160,151.8 163.4,157.8 168.8,169.4 170.9,173 173.8,176.5 177.7,180 181.8,182.7 184.9,184 188,184.9 191,185.5 194.1,185.6 197.2,185.3 200.2,184.7 203.3,183.6 206.4,182.4 218.7,175.8 221.7,174.5 227.9,172.4 237.1,167.7 249.4,162.4 252.4,160.9 255.5,159 258.6,156.7 264.7,151.4 267.8,149 270.9,147.2 273.9,146.1 277,146.5 280.1,147.7 283.1,149.7 286.2,152.2 289.3,155.3 292.3,158.9 295.4,163.1 297,165.9 298.5,169.1 301.3,176.5 303.8,180 304.6,180.9 307.7,182.7 310.3,183.6 313.8,184.4 320,185.4 326.1,186 329.2,186 332.2,185.8 338.4,184.8 344.5,183.5 347.6,182.3 350.7,180.4 354.4,176.5 356.8,173 358.6,169.4 359.9,165.9 360.8,162.4 362.1,158.8 369.1,148.9 371.3,144.7 375,134.1 376,130.6 376.6,127.1 376.9,123.5 376.9,120 376,113 374.5,105.9 372.2,98.7 370.2,91.8 368.9,84.7 367.6,70.6 365.2,52.9 364.2,38.8 363.8,35.3M608.5,278.7 605.5,278.9 602.4,280.4 600.5,282.4 599.3,284.1 598.5,285.9 597.4,289.5 596.7,293 596.2,296.5 596.1,300.1 596.2,307.1 597.1,314.2 598.7,321.2 601,328.3 602.4,332 605.4,338.9 609.1,345.9 611.6,350 614.1,353 614.7,353.8 617.8,356.5 620.8,357.8 623.9,357.7 627,355.6 628.7,353 630.5,349.5 631.5,345.9 632.3,342.4 633.2,335.4 633.4,328.3 633.1,320.3 631.8,310.6 630,302.6 628.1,296.5 627,293.5 623.9,287.8 620.8,284.3 617.8,281.8 614.7,280.2 611.6,279.1 608.5,278.7M716,494.2 712.8,497.7 711,501.3 710.3,504.8 710.4,508.3 711.1,511.8 714.7,522.4 715.6,526 716,529.5M421,529.5 420.9,469.5 421,458.9 422,437.7 424.5,391.8 424.6,381.2 424.3,356.5 424.5,349.5 426,328.3 426,317.7 425.3,307.1 424.1,296.5 422.7,289.5 420.7,282.4 418.2,276.9 415.1,272.5 412.1,270 409,268.9 405.9,269 402.9,269.9 399.8,271.6 396.7,274 395.4,275.3 392.5,278.9 390.1,282.4 375.2,309.3 372.2,316 370.3,321.2 368.4,328.3 367.1,335.4 366.4,342.4 366.3,349.5 366.7,356.5 367.8,363.6 369.1,369.1 372.2,375.3 375.2,378.7 378.3,381.4 381.1,384.8 384.4,390.9 387.5,398.5 389.9,406 391.6,413 392.9,420.1 394.1,430.7 394.7,444.8 395,469.5 394.9,529.5M430.8,35.3 434.8,52.9 436.8,60 440.2,70.6 445.5,84.7 448.5,91.8 452,98.2 454.8,102.4 456.9,105.9 458.4,109.4 459.5,113 460.8,120 461.7,123.5 464.3,128.7 467.3,132.2 474,137.7 477.8,141.2 480.6,144.7 482.7,147.9 485.8,150.6 488.8,149.5 489.5,148.3 491.9,141.2 495.8,130.6 496.9,127.1 498.9,116.5 499.4,113 499.5,109.4 499.3,105.9 498,98.8 494.2,84.7 490.9,74.1 490,70.6 488.6,63.5 487.7,56.5 487.5,52.9 487.6,49.4 488.6,38.8 488.6,35.3M102,92.7 108.1,97.9 119.7,105.9 123.6,109.4 126.4,113 128.3,116.5 130,120 133.8,130.6 135.8,134.7 137.6,137.7 138.8,139.2 141.9,142.4 148.2,148.3 151.5,151.8 154,155.3 156,158.8 161,169.4 163.2,173 165.9,176.5 169.1,180 172.6,183.1 175.7,185.3 178.8,187 181.8,188.3 184.9,189.2 188,189.8 191,190.1 194.1,190.1 197.2,189.8 200.2,189.1 203.3,188.2 209.4,185.6 218.7,180.8 221.7,179.6 227.9,177.8 240.2,172.7 252.4,168.1 255.5,166.6 258.6,164.7 267.8,157.4 270.9,155.7 273.9,154.7 277,154.4 280.1,154.8 283.1,156.3 286.2,158.5 289.3,161.7 292.3,165.2 295.4,169.7 298.5,176.5 300.3,180 301.5,181.6 304.6,184.2 307.7,185.5 310.8,186.3 320,187.8 326.1,188.2 332.2,187.9 341.5,186.2 344.5,185.5 347.6,184.5 350.7,182.7 353.8,180 356.9,176.5 359.5,173 361.8,169.4 366,161.7 370.3,155.3 372.4,151.8 374,148.3 375.3,144.7 377.2,137.7 378.8,130.6 379.3,127.1 379.5,123.6 379.3,116.5 378.9,113 377.5,105.9 373.3,95.3 372.2,92 371.3,88.2 370.4,81.2 369.7,70.6 367.1,52.9 366.1,38.8 365.7,35.3M580.9,225 577.8,226.3 573,229.4 569.3,233 566.5,236.5 564.5,240 563.2,243.6 562.5,247.1 562.6,250.6 563.3,254.2 568.6,269.4 571.7,280.3 576.9,303.6 581.8,331.8 583.4,338.9 585.5,345.9 587.1,350.2 590.1,357 593.2,362.7 596,367.1 598.5,370.7 601.4,374.2 604.9,377.7 608.5,380.6 611.6,382.7 615.6,384.8 620.8,386.6 623.9,387.3 630,387.8 633.1,387.7 636.2,387.3 639.2,386.6 642.3,385.4 643.4,384.8 645.4,383 646.7,381.2 648.1,377.7 648.6,374.2 648.7,370.6 648.2,356.5 648.3,335.4 648.1,328.3 647.6,321.2 646.6,314.2 646,310.6 642.7,296.5 639.2,283.5 637.8,278.9 636.5,275.3 634.9,271.8 633.1,268.5 630.5,264.8 627,260.9 619,254.2 615.6,250.6 612.8,247.1 610.5,243.6 605.5,234.7 602.4,230.4 601.5,229.4 599.3,227.5 597,225.9 593.2,224.3 590.1,223.8 587.1,223.7 584,224.2 580.9,225M344.5,349.3 338.4,351.2 333.8,353 332.2,353.9 328.5,356.5 325.3,360.1 323.3,363.6 322.2,367.1 321.6,370.6 321.5,374.2 322.6,384.8 323,391.8 323.5,395.4 324.2,398.9 325.2,402.4 327.7,409.5 333.5,423.6 338.4,436.9 344.5,451.7 346.5,455.4 347.6,458.6 350.7,454.8 351.6,448.3 352.3,441.2 352.6,430.7 352.3,384.8 352.7,377.7 354.1,360.1 354.1,356.5 353.6,353 351.8,349.5 350.7,348.5 347.6,348.4 344.5,349.3M102,441.3 104.9,437.7 107.2,434.2 108.8,430.7 109.3,427.1 108.1,423.6 104.9,420.1 102,418.3M716,487 709.9,489.3 706.6,490.7 701.8,494.2 699.3,497.7 698.1,501.3 697.6,504.8 697.7,508.3 698.1,511.9 701.5,526 701.8,529.5M430.4,529.5 430.5,455.4 431.3,423.6 432.3,402.4 432.5,391.8 432.3,381.2 430.9,353 431,324.8 429.9,307.1 428.8,296.5 427.6,289.5 425.9,282.4 424.8,278.9 423.4,275.3 421.3,271.1 419.5,268.3 418.2,266.6 416.4,264.8 415.1,263.6 412.1,261.7 409,260.9 405.9,261.1 402.9,261.9 399.8,263.4 396.7,265.4 393.6,268.1 390.6,271.3 387.4,275.3 385.1,278.9 372.2,300.8 368.8,307.1 365.6,314.2 363.3,321.2 361.6,328.3 360.4,335.4 360,338.9 359.6,345.9 359.7,349.5 360.3,356.5 361.3,363.6 362.9,371.8 363.9,377.7 366,395 366.9,398.9 368.1,402.4 369.1,404.6 372.2,407.3 375.2,409.1 378.3,411.9 379,413 381.4,417.7 382.9,423.6 383.5,427.1 383.8,430.7 384,437.7 383.2,458.9 383.2,529.5M428.9,35.3 432.9,52.9 435,60 438.6,70.6 444,84.7 447,91.8 448.9,95.8 454.3,105.9 455.7,109.4 456.5,113 457.8,120 458.6,123.5 461.2,131.2 464.3,137.5 466.5,141.2 468.2,144.7 469.4,148.3 471.9,158.8 475.1,169.4 477.7,180 478.6,187.1 479.2,194.1 479.5,208.3 480.2,211.8 481.8,215.3 482.7,216.7 485.8,219 488.8,220.6 491.1,222.4 491.9,223.3 493.7,225.9 494.9,229.4 495.3,233 495.2,243.6 496.1,264.8 496.8,275.3 497.8,285.9 499.3,293 501.1,299.2 504.2,304.9 507.2,307.8 510.3,308.8 513.4,308.1 516.5,306.2 522.6,300.7 525.7,298.3 528.7,296.8 531.8,297 534.9,298 544.1,300.3 547.1,301.4 550.2,302.7 553.3,304.6 556.4,307.2 559.4,311.1 561,314.2 562.5,317.7 563.3,321.2 564,324.8 564.9,331.8 566.7,356.5 566.6,360.1 566.3,363.6 565.2,370.6 564.9,374.2 565.3,377.7 567,381.2 570.9,384.8 578,388.3 589.1,391.8 596.3,393.7 612.6,398.9 617.8,400.3 630,403 636.2,404.8 642.3,407.1 651.5,411.2 657.7,413.4 663.8,414.8 666.9,415.3 669.9,415.4 673,415.3 676.1,414.7 680.4,413 682.2,411.7 685.2,409.5 688.3,405.9 690.7,402.4 691.4,400.5 693.2,398.9 691.4,396.8 689.9,395.4 688.4,395 685.3,392.9 682.2,389.2 681.7,388.3 676.1,380.5 673,375.7 669.9,370 666.9,362.7 665.1,356.5 664.5,353 663.6,342.4 663.1,324.8 662.6,317.7 661.2,307.1 659.7,300.1 654.6,282.4 650.8,264.8 649.9,261.2 648.7,257.7 647.3,254.2 645.6,250.6 641.6,243.6 639.9,240 638.5,236.5 634.6,225.9 633.1,222.4 631.1,218.9 628.3,215.3 623.9,211.8 617.5,208.3 611.6,205.6 605.5,203.2 599.3,201.3 593.2,199.9 584,198.8 559.4,197.8 541,197.5 534.9,197 531.8,196.3 528.7,194.6 525,190.6 522.6,187.1 520.5,183.6 519.3,180 518.6,176.5 518.9,173 519.5,169.3 519.7,165.9 519.5,162.4 518.4,158.8 516,155.3 508.6,148.3 506,144.7 504.8,141.2 504.6,137.7 505.5,127.1 505.7,120 505.7,113 505.5,109.4 504.4,102.4 501,88.2 495,61.7 494,56.5 493.6,52.9 493.3,42.4 492.8,35.3M716,90.3 713.4,95.3 711.9,98.8 709.7,105.9 708.1,113 702.1,144.7 701.2,151.8 700.7,158.9 700.4,183.6 700.6,194.1 701.7,215.3 701.8,233 702.2,236.5 702.8,240 704,243.6 705.6,247.1 707.9,250.6 710.4,254.2 712.9,257.1 716,260.1M102,98.4 108.1,104.1 114.7,109.4 118.2,113 120.4,116.1 122.4,120 123.5,123 126.4,134.1 127.8,137.7 129.9,141.2 132.7,145 135.8,148.6 142.1,155.3 145,158.9 148.1,163.8 152.7,173 154.9,176.5 157.8,180 160.3,182.7 163.4,185.2 169.5,189.3 172.6,190.9 175.7,192.2 178.8,193.2 181.8,193.9 188,194.8 194.1,194.8 197.2,194.4 200.2,193.7 206.4,191.7 212.5,189.1 218.7,186.1 221.7,184.9 230.9,182.6 252.4,175.6 258.6,172.9 261.6,171.2 267.8,167.4 270.9,165.7 273.9,164.5 277,163.7 280.1,163.5 283.1,164.6 286.2,166.4 289.3,168.9 292.3,172 295.4,176.9 297,180 299.4,183.6 301.5,185.6 304.6,187.3 307.7,188.3 313.8,189.5 320,190.2 326.1,190.6 332.2,190.2 344.5,187.6 347.6,186.6 350.7,185 353.7,182.7 356.4,180 371.4,162.4 374.2,158.8 376.1,155.3 377.6,151.8 378.3,149.5 379.4,144.7 381.4,134.1 382.1,127.1 382.2,123.5 382.2,116.5 382,113 381.5,109.4 380.7,105.9 379.2,102.4 375.2,94.5 374.2,91.8 373.2,88.2 372.7,84.7 372.3,81.2 371.9,70.6 369.1,52.9 368,38.8 367.6,35.3M197.2,381.2 194.1,381.5 191,382.1 188,383 183.8,384.8 180.2,388.3 179.1,391.8 179.1,395.4 179.5,398.9 180.7,405.9 182.3,413 184.9,422 187.9,427.1 191,428.5 194.1,428.3 197.2,427.2 200.2,425.5 212.5,416 215.6,413.3 218.7,410.3 221.7,406.5 224.1,402.4 225.3,398.9 225.6,395.4 225.2,391.8 223.3,388.3 221.7,386.6 219.5,384.8 215.6,382.9 212.5,382 209.4,381.4 203.3,381 197.2,381.2M507.2,380.5 504.2,382.9 503,384.8 501.1,388.3 498,401 496.3,409.5 495,413.8 492.6,423.6 492,427.1 492.1,430.7 493.1,434.2 495,436.9 498,436.1 501.1,431.5 504.2,421 506,413 508.3,405.9 514,391.8 514.9,388.3 514.7,384.8 513.4,382.2 512.3,381.2 510.3,380.2 507.2,380.5M716,381.1 712.9,381.8 704.9,384.8 699.8,388.3 697.6,391.3 696.9,391.8 694.4,395.4 697.6,397.6 700.6,398.3 706.6,398.9 716,399M716,482.1 706.8,483.9 700.6,485.6 696.7,487.1 694.5,488.3 691.1,490.7 688.3,494.2 687,497.7 686.2,501.3 686,504.8 686.3,511.8 687.8,522.4 688.3,529.5M121.5,529.5 121.1,504.8 121.7,490.7 121.8,476.6 122.4,469.5 123,466 124,462.4 125.3,458.9 126.6,456.6 127.3,455.4 129.6,452.7 132.7,449.8 143.2,441.2 146.7,437.7 149.5,434.2 151.6,430.7 153.2,427.1 154.3,423.6 155.7,420.1 158,416.5 163.4,410.2 165.5,405.9 166.7,402.4 167.2,398.9 167.1,395.4 166.5,394 164.7,391.8 163.4,391.2 145,385.8 141.9,385.2 138.8,385 135.8,385.2 132.7,385.7 126.6,387.5 124.2,388.3 111.2,394.2 105.1,396.3 102,397.1M446.4,529.5 446.6,466 445.4,434.2 442.7,388.3 438.6,353 436.4,321.2 434.3,300.1 432.7,289.5 431.1,282.4 428.9,275.3 425.9,268.3 423.9,264.8 421.5,261.2 418.2,257.7 415.1,255.3 412.8,254.2 412.1,253.8 409,253.2 405.9,253.4 402.9,254.2 399.8,255.5 396.7,257.3 393.6,259.7 390.6,262.5 387.5,265.7 384.4,269.4 380,275.3 375.2,282.8 362.4,307.1 355.6,321.2 353.7,324.4 350.7,328.3 347.2,331.8 344.5,334.1 341.5,336.3 336.8,338.9 329.1,342.4 322.1,345.9 316.9,349.2 313.8,351.7 312.3,353 309.1,356.5 298.5,370 295.4,373.3 286.2,382.3 284.4,384.8 282.4,388.3 281.2,391.8 280.5,395.4 280.4,398.9 280.6,402.4 281.9,409.5 284.6,420.1 285,423.6 285.1,427.1 285.1,434.2 284.3,462.4 284.3,529.5M427,35.3 429.3,45.9 431,52.9 435.7,67.1 439.7,77.7 443.9,88.2 445.4,91.8 450.6,102.4 453.3,109.4 454.1,113 456.1,123.5 462.8,151.8 464.3,159.8 466,165.9 468.2,176.5 469.2,183.6 470.4,197.5 472,211.8 472.6,215.3 473.5,218.9 474.7,222.4 477.6,229.4 478.4,233 478.4,243.6 478.8,247.1 479.5,250.6 483.8,268.3 485.8,279.9 490.2,321.2 492.3,338.9 492.7,345.9 492.6,353 492.3,356.5 491.1,363.6 487.8,377.7 483.9,391.8 482.6,395.4 479.6,401.1 476.5,404.9 473.5,407 470.4,407.6 467.3,406.9 464.3,405.3 461.2,402.5 458.8,398.9 457.1,395.4 455,389 452.6,377.7 450.6,367.1 448.5,353 445,321.2 442.4,303.6 441.1,296.5 438.6,285.9 437.5,282.4 435.2,275.3 432.4,268.3 428.7,261.2 426.3,257.7 424.3,255.2 420,250.6 418.2,249.1 415.1,247 412.1,245.6 409,245.1 405.9,245.3 402.9,246 400.1,247.1 396.7,248.9 393.6,251.1 390.6,253.7 387.5,256.5 380,264.8 375.2,270.9 372.2,275.9 363.7,293 359.9,300.1 356.8,305.3 353.7,309.8 350.7,313.9 344.5,321.4 341,324.8 336.3,328.3 330.4,331.8 316.9,339 310.8,343 302.6,349.5 292.3,358.9 283.1,366.6 280.1,369.8 276.7,374.2 274.4,377.7 272.5,381.2 270.8,384.8 269.4,388.3 268.4,391.8 267.7,395.4 267.3,398.9 267.1,402.4 267.2,405.9 268.1,420.1 267.6,462.4 267.6,529.5M716,66.1 709.9,73.6 706.8,77.8 703.7,83.2 700.6,90.9 698.4,98.8 695.8,109.4 693.8,116.5 687.5,134.1 685.3,141.2 681.2,162.4 679.6,169.4 677.5,176.5 674.8,183.6 673,187.4 669.9,192.7 666.9,196.6 665.8,197.7 663.8,199.4 660.7,201.3 657.7,202.4 654.6,202.6 651.5,202.2 648.5,201.2 645.4,200 633.1,194.3 627,192.1 602.4,185.2 593.2,182.8 565.6,177.2 550.2,173.7 544.1,172 541,170.8 537.9,169.3 534.9,167.3 531.8,164.7 528.7,159 527.4,155.3 525.7,151.7 522.6,146.9 520.6,144.7 518,141.2 516.6,137.7 516,134.1 515.5,127.1 515.1,123.6 512.7,109.4 511.3,102.4 508,88.2 506.7,77.7 506,74.1 505,70.6 499.8,56.5 498.9,52.9 496.6,42.4 495.6,35.3M102,105.9 107.2,113 109.2,116.5 110.8,120 111.8,123.5 112.3,127.1 112.9,134.1 113.5,137.7 114.9,141.2 117.3,145.5 119.2,148.3 122,151.8 129.6,159.7 132.7,163.1 135.8,166.9 138.8,171.3 148.1,186.1 151.1,190 154.2,192.8 157.3,194.7 160.3,196.1 163.4,197.1 169.5,198.5 172.6,199.1 178.8,199.8 188,200.1 194.1,199.7 197.2,199.2 200.2,198.6 206.4,196.7 221.7,190.6 234,188.2 252.4,183.7 258.6,181.6 267.8,177.8 270.9,176.7 273.9,175.8 277,175.1 280.1,174.9 283.1,175.2 286.2,175.9 289.3,177.3 292.3,180 294.7,183.6 297.7,187.1 298.5,187.7 301.5,189.6 304.6,190.7 307.7,191.4 313.8,192.4 320,193.1 326.1,193.4 329.2,193.2 332.2,192.8 344.5,189.7 347.6,188.8 350.7,187.4 353.7,185.4 356.8,182.8 366,173.6 374.5,165.9 377.8,162.4 380.1,158.8 381.4,155.7 382.4,151.8 383.1,148.3 384.4,137.7 385,130.6 385.2,116.5 385.2,113 384.8,109.4 384,105.9 382.4,102.4 378.2,95.3 376.5,91.8 375.3,88.2 374.8,84.7 374.6,81.2 374.4,74.1 374.2,70.6 371.1,52.9 370,38.8 369.5,35.3M716,366.4 709.9,366.2 700.6,366.3 694.5,365.8 691.4,365.1 688.4,363.9 685.3,361.7 683.7,360.1 682.2,358.1 681.4,356.5 680,353 679.1,349.5 678.6,345.9 678.3,342.4 678.1,335.4 678.7,324.8 679.4,317.7 679.9,314.2 680.8,310.6 682.1,307.1 684.1,303.6 685.3,302 688.4,299.4 691.4,298.1 694.5,297.6 697.6,297.6 709.9,298.9 716,299.1M716,477.6 700.7,479.2 695.3,480.1 691.4,481 688.4,482.1 685.3,483.5 682.2,485.9 681.1,487.1 679,490.7 677.9,494.2 677.4,497.7 677.1,501.3 677,508.3 677.9,529.5M236.2,529.5 236,469.5 236.3,455.4 238.3,423.6 238.7,420.1 241.2,406 241.5,402.4 241.6,398.9 241.3,395.4 240.8,391.8 239.8,388.3 238.4,384.8 236.7,381.2 234.5,377.7 231.8,374.2 227.9,370.8 224.8,369.4 221.7,368.8 218.7,368.7 215.6,368.8 209.4,369.6 200.2,371.4 194.1,373.1 184.9,376.2 181.8,377 178.8,377.6 175.7,377.8 172.6,377.6 166.5,376.3 163.4,375.4 160.3,374.1 157.3,372.1 151.1,366.1 148.1,364.7 145,365.2 141.9,367.1 137.6,370.6 135.8,371.8 132.7,373.3 108.1,382.6 102,384.6M513.7,529.5 513.6,501.3 513.9,476.6 514.4,466 515.6,455.4 516.9,448.3 519.4,437.7 521.4,430.7 523.8,423.6 525.7,419.6 527.7,416.5 528.7,415.3 531.8,412.6 534.9,411 537.9,409.7 541,408.8 547.1,407.7 556.4,406.8 571.7,406 580.9,405.9 590.1,406.4 599.3,407.7 608.5,409.7 620.8,412.9 627,414.9 630,416.3 633.1,418.2 636.2,420.4 639.6,423.6 645.4,430.1 648.5,433.1 651.5,435.4 654.6,436.6 657.7,437.2 660.7,437.4 666.9,437 676.1,435.4 685.3,433.1 691.4,431.1 699.5,427.1 704.8,423.6 709.9,419.9 712.9,418.1 716,416.6M425,35.3 428.2,49.4 429.2,52.9 431.5,60 439.5,81.2 443.8,91.8 448.7,102.4 450.1,105.9 451.2,109.4 456.7,137.7 458.1,146.5 463.2,173 465,187.1 465.8,197.7 466.3,208.3 466.5,218.9 466.2,225.9 465.5,233 463.1,243.6 462,250.6 461.9,254.2 462.2,257.7 463,261.2 464.6,264.8 466.7,268.3 470.4,273.4 473.1,278.9 474.1,282.4 475.7,293 476.5,302.9 477.5,317.7 479.6,334.3 480.3,342.4 480.4,349.5 480.2,353 479.7,356.5 479,360.1 476.5,368.3 473.5,373.7 470.4,375 467.3,372.7 464.3,367 462.2,360.1 461.2,356 460.7,353 459.8,345.9 458.8,321.2 457,307.1 455.7,300.1 453.4,289.5 451.2,282.4 448.3,275.3 446.5,271.8 444.1,268.3 441.1,264.8 439.7,263.5 432.3,254.2 425.8,247.1 421.3,243 416.9,240 415.1,239.2 412.1,238.1 409,237.7 405.9,237.8 402.9,238.3 399.8,239.2 396.7,240.4 393.6,242 390.6,244.1 387.5,246.7 378.3,256 374,261.2 372.2,263.9 369.1,269.1 366,275.2 359.9,288.8 355.5,296.5 353.7,299.3 350.5,303.6 347.6,306.9 341.5,313.1 335.3,318.5 331.8,321.2 326.5,324.8 313.8,332.5 295.4,345.6 284.1,353 280.1,356.1 275.4,360.1 271.9,363.6 261.6,375.3 258.6,377.9 255.5,379.3 252.4,378.6 249.4,376.4 246.3,373.3 241,367.1 237.6,363.6 234,360.4 230.9,358.3 227.9,356.9 224.8,356.2 221.7,356.1 218.7,356.6 212.5,358.2 200.2,362.6 194.1,365.4 188,368.8 184.9,370.2 181.8,371.2 178.8,371.5 175.7,371.3 173.1,370.6 169.5,369 166.5,367.1 163.4,364.5 158.5,360.1 154.2,357.1 151.1,355.8 148.1,355.2 145,355.4 141.9,356.4 138.8,358.1 129.6,364.6 125,367.1 111.2,373.1 102,376.3M716,41.5 712.9,42.7 704,45.9 700.6,47.7 697.6,50.6 696,52.9 694.1,56.5 691.8,63.5 690.3,70.6 689.2,77.7 686.5,98.8 684.5,109.4 682.6,116.5 677.2,134.1 672.4,151.8 669.9,158.5 668.1,162.4 666.9,164.6 663.8,169 660.7,172.4 657.7,174.8 654.6,176.5 651.5,177.6 648.5,178.1 645.4,178.3 642.3,178.2 636.2,177.5 620.8,174.9 617.8,174.2 608.5,171.4 596.3,166.7 590.1,164.7 584,163.1 571.7,160.6 564.7,158.8 556.4,155.8 550.2,152.9 547.1,150.9 544.1,148.6 541,145.8 537.9,142.3 534.9,138.1 531.8,132.6 529.5,127.1 519.5,98.5 517.6,91.8 516.7,88.2 516.2,84.7 515.8,77.7 515,74.1 513.2,70.6 510.3,66.9 507.2,62.3 504.2,55.9 501.1,48.9 500,45.9 497.4,35.3M102,254.3 107.8,250.6 112.2,247.1 123.5,235.8 126.6,233 132.7,227.7 135.8,225.4 141.9,221.7 154.9,215.3 163.4,211.8 172.6,208.8 178.8,207.5 194.1,205.1 200.2,203.9 206.4,202.1 218.7,197.7 221.7,196.8 224.8,196.3 240.1,194.6 252.4,192.7 255.5,191.9 258.6,190.8 267.8,187.1 270.9,186.3 273.9,185.9 277,185.8 280.1,186 283.1,186.5 286.2,187.4 289.3,188.7 295.4,192.5 298.5,193.6 301.5,194.4 307.7,195.4 316.9,196.5 323,197 326.1,197 329.2,196.7 332.2,196.1 337.6,194.1 347.6,191.3 350.7,190.1 353.7,188.5 355.9,187.1 364.8,180 378.3,169 381.5,165.9 384.1,162.4 385.8,158.8 386.7,155.3 387.6,148.3 388.2,137.7 388.4,130.6 388.5,116.5 388.5,113 388.2,109.4 387.3,105.9 385.6,102.4 381.1,95.3 379.1,91.8 377.8,88.2 377.2,84.7 377,81.2 376.9,74.1 376.6,70.6 373.1,52.9 371.9,38.8 371.5,35.3M716,473.2 694.5,473 685.3,473.4 682.2,473.9 679.2,474.7 675.8,476.6 673,479.5 671,483.6 670.1,487.1 669.5,490.7 669.3,494.2 669.1,501.3 669.3,529.5M527.1,529.5 526.8,504.8 527.3,490.7 528,480.1 528.7,473 530.8,462.4 531.8,458.9 534.8,451.8 537.9,446.4 539.1,444.8 542.1,441.2 546,437.7 550.2,434.9 553.3,433.1 565.8,427.1 571.7,424.9 575.6,423.6 577.8,423.1 584,422.1 590.1,421.9 596.3,422.3 603.5,423.6 608.5,425.2 613.6,427.1 619.5,430.7 623.7,434.2 626.7,437.7 633.2,448.3 635.7,451.8 639.2,455.3 642.3,457.3 645.4,458.7 648.5,459.5 651.5,459.7 654.6,459.5 657.7,458.7 660.7,457.4 666.9,453.7 669.5,451.8 675.4,448.3 682.8,444.8 694.5,439.8 709.9,432.6 716,430M423,35.3 426.3,49.4 428.5,56.5 435.1,74.1 439.7,85.8 447.1,102.4 449.4,109.4 450.2,113 452.8,127.1 455.9,144.7 458.1,160.4 460.3,173 461.2,180 462.2,190.6 462.6,201.2 462.1,211.8 461.1,218.9 460.3,222.4 459.2,225.9 456.4,233 455,235.8 452,240.7 448.9,244.2 445.8,246.3 442.8,247.1 439.7,247.1 436.6,246 433.6,244.1 428.2,240 424.3,237.4 418.2,233.8 412.1,231.3 409,230.9 405.9,230.8 402.9,231.2 399.8,232 393.6,234.2 387.5,237.3 383.1,240 378.7,243.6 375.2,247.1 372.2,251.1 369.1,255.8 364.4,264.8 361.2,271.8 356.8,282.4 353.2,289.5 350.7,293.5 347.6,297.4 344.5,300.8 341.5,303.8 338.4,306.5 332.2,311.3 313.8,324.4 301.5,333.5 295.4,337.7 289.3,341.3 279.6,345.9 273.1,349.5 261.6,356.9 258.6,358.4 255.5,359.2 252.4,358.9 249.4,357.6 246.3,355.7 237.7,349.5 234,347.5 230.9,346.2 227.9,345.3 224.8,344.9 221.7,344.9 218.7,345.2 215.6,345.8 212.5,346.7 206.4,349 194.1,354.1 191,355.8 189.9,356.5 188,358.1 184.9,361.1 181.8,363.3 178.8,363.8 178.1,363.6 175.7,362.3 173.2,360.1 169.5,355.7 166.5,353.3 163.4,351.6 158.5,349.5 154.2,347.8 151.1,347 148.1,346.6 145,346.5 141.9,346.9 138.8,347.6 135.8,349 132.7,350.9 125.4,356.5 120.1,360.1 111.2,364.9 106.4,367.1 102,368.8M679.5,35.3 679.6,56.5 679.5,67.1 678.5,88.2 677.4,98.8 676.4,105.9 674.9,113 671.1,127.1 666.9,140.9 665.5,144.7 663.8,148.6 660.7,153.8 657.7,157.3 654.6,159.7 651.5,161.2 648.5,162.3 645.4,162.9 639.2,163.4 633.1,163.2 623.9,162.1 620.8,161.6 614.7,159.8 608.5,157.1 596.3,150.3 593.2,148.9 587.1,146.8 574.8,143.7 568.6,141.7 565.6,140.2 562.5,138.2 557.5,134.1 553.3,130.1 547.1,123.2 544.1,119.3 541,114.9 537.9,110 534.9,104.2 531.8,97.2 528.7,89.4 527.1,84.7 524.1,74.1 522.5,70.6 519.6,67.1 513.4,62.6 510.3,59.5 507.2,54.6 501.1,42.6 499.1,35.3M102,278.6 111.2,276.9 117.4,275.4 123.5,273.6 126.6,272.4 129.6,271 135.8,267.8 148.1,262.1 151.1,260.3 154.2,258.1 157.3,255.3 160.3,251.7 163.4,247.1 166.5,240.8 170.9,229.4 172.8,225.9 175.2,222.4 178.7,218.9 181.8,216.7 184.1,215.3 188,213.8 194.1,211.8 203.3,209.3 218.7,204.6 221.7,203.8 224.8,203.6 240.2,204 252.4,203.1 255.5,202.6 258.6,201.5 264.7,198.5 267.8,197.2 270.9,196.5 273.9,196.4 277,196.8 280.1,197.5 289.3,200.5 292.3,201.3 295.4,201.7 307.7,201.8 316.9,202.6 323,202.8 326.1,202.6 329.2,202 332.2,200.9 335.3,199.6 338.7,197.7 341.5,196.6 353.7,192.7 359.9,189.7 366,186.1 372.2,182 381.4,174.6 384.4,171.9 387.5,168.5 389.3,165.9 390.8,162.4 391.7,158.8 392.1,155.3 392.2,151.8 391.9,123.6 392,113 391.6,109.4 390.7,105.9 389,102.4 384.2,95.3 382,91.8 380.6,88.2 379.9,84.7 379.5,74.1 379.1,70.6 375.2,52.9 373.9,38.8 373.5,35.3M716,468.1 709.9,467.4 703.7,466.3 702,466 697.6,464.5 692.8,462.4 689.9,458.9 690.7,455.4 693.8,451.8 698.3,448.3 703.9,444.8 706.8,443.2 710.5,441.2 716,438.8M633.9,529.5 633.5,522.4 632.5,511.8 632.3,504.8 632.5,501.3 633,497.7 633.9,494.2 635.3,490.7 636.2,489.2 637.7,487.1 639.2,485.7 642.4,483.6 645.4,482.6 648.5,482.4 651.5,482.8 654.6,484.6 656.5,487.1 657.7,489.5 658.9,494.2 659.4,497.7 659.8,504.8 659.6,511.9 658.9,529.5M421,35.3 424.5,49.4 426.8,56.5 439.1,88.2 445.4,102.4 446.7,105.9 447.7,109.4 449.2,116.5 454,144.7 458.1,176.5 459.4,190.6 459.6,197.7 459.4,201.2 458.6,208.3 457.3,215.3 456.1,218.9 454.6,222.4 452,226.8 448.9,230.8 446.7,233 445.8,233.7 442.8,235.4 439.7,236.1 436.6,235.9 433.6,235 430.5,233.6 427.4,232 418.2,226.6 412.1,223.6 402.9,220.5 396.7,217.8 393.6,217.6 390.6,221.3 390,222.4 387.4,225.9 383.6,229.4 375.2,234.8 372.2,237.3 369.3,240 366.6,243.6 364.6,247.1 361.4,254.2 353.1,275.3 350.1,282.4 348.2,285.9 345.8,289.5 343,293 338.4,297.8 335.3,300.5 331.3,303.6 315.7,314.2 302.9,324.8 298.5,328.1 292.3,332.1 286.2,335.2 270.9,340.8 261.6,343.6 258.6,344.3 255.5,344.6 252.4,344.4 249.4,343.7 234,337.6 227.9,336 224.8,335.6 221.7,335.4 215.6,335.8 209.4,336.7 197.2,339.3 194.1,339.6 191,339.6 184.9,339 181.8,338.4 172.6,335.9 160.3,331.7 154.7,328.3 150.8,324.8 148,321.2 145.9,317.7 145.1,314.2 145.7,310.6 147.5,307.1 150.1,303.6 153.4,300.1 160.8,293 163.4,290.1 166.5,285.8 169.5,279.2 170.9,275.3 172.6,269.9 177.9,250.6 182.9,236.5 184.4,233 186.4,229.4 189.2,225.9 191,224.3 194.1,222.1 200.7,218.9 209.4,215.5 218.7,212.8 221.7,212.3 224.8,212.3 227.9,212.7 237.1,214.6 240.2,215 252.4,215.6 255.5,215.4 258.6,214.6 261.6,213 264.7,211.2 267.8,209.7 270.9,209 273.9,209 289.3,211.8 295.4,212.2 304.6,212.2 315.5,211.8 323,211.3 326.1,210.9 329.2,210.1 333.5,208.3 335.3,207.2 341.5,202.9 344.5,201.2 347.6,200.5 353.7,199.5 356.8,198.8 362.9,196.9 372.2,193.2 377.1,190.6 381.4,187.9 386.8,183.6 390.6,179.9 393.1,176.5 394.9,173 396.1,169.4 396.8,165.9 397.2,162.4 397.2,155.3 396,137.7 395.6,123.5 395.4,113 395,109.4 394.1,105.9 393.6,105 392.3,102.4 385.2,91.8 383.6,88.2 382.8,84.7 382.2,74.1 381.7,70.6 378.3,57.8 377.2,52.9 375.5,35.3M547.8,35.3 546.9,52.9 546.1,60 545.3,63.5 544.1,66.6 541,69.3 537.9,68.6 534.9,65.3 531.8,59.6 528.7,57 522.6,57.7 519.5,57.7 516.5,57.3 513.4,56 510.3,52.8 507.2,47.7 504.2,42.6 501.1,36.2 500.9,35.3M668.7,35.3 670.5,49.4 671.5,60 671.7,67.1 671.6,77.7 670.9,88.2 669.6,98.8 667.6,109.4 664.9,120 662.7,127.1 660.1,134.1 657.7,139.2 654.6,143.6 651.5,146.3 648.5,148.2 645.4,149.4 642.3,150.2 639.2,150.6 636.2,150.8 630,150.6 623.9,149.9 620.8,149.2 617.8,148.2 614.7,146.9 610.8,144.7 599.6,137.7 596.3,135.9 593.2,134.4 583.9,130.6 580.9,129.2 577.1,127.1 574.8,125.4 571.7,122.7 569.3,120 566.9,116.5 565.1,113 563.6,109.4 561.6,102.4 561,98.8 560.5,91.8 560.9,84.7 563.6,60 564.8,52.9 568.8,35.3M102,302.4 106.5,303.6 111.2,305.5 114.2,307.1 118.7,310.6 121.4,314.2 122.5,317.7 123,324.8 122.9,328.3 122.5,331.8 121.7,335.4 120.7,338.9 119.3,342.4 117.6,345.9 115.4,349.5 112.6,353 108.7,356.5 105.1,358.9 102,360.6M716,460.8 712.6,458.9 711.2,455.4 712.9,451.8 716,449.1M419,35.3 422.7,49.4 425,56.5 437.5,88.2 443.8,102.4 445.1,105.9 446.1,109.4 447.5,116.5 451.8,141.2 452.7,148.3 455.3,173 456.4,187.1 456.6,194.1 456.4,197.7 455.4,204.7 453.8,211.8 452,216.5 450.5,218.9 448.9,220.9 445.8,224 442.8,226.2 439.7,227.6 436.6,227.9 433.6,227.5 430.5,226.5 427.4,225 417.3,218.9 412.1,215.3 407.9,211.8 404.6,208.3 399.1,201.2 397.1,197.7 396.4,194.1 397.3,190.6 401.2,183.6 402.8,180 403.4,176.5 403.4,173 402.8,165.9 400.5,148.3 399.8,141.2 398.6,113 398.1,109.4 397.2,105.9 396.7,104.8 395.5,102.4 393.6,99.4 388.4,91.8 386.8,88.2 385.9,84.7 384.9,74.1 384.3,70.6 380.1,56.5 379.3,53 378.8,49.4 377.9,38.8 377.4,35.3M527.2,35.3 526.3,38.8 524.9,42.4 522.6,45.8 519.5,47.9 516.5,48.4 513.4,47.9 510.3,45.1 507.2,40.6 504.5,35.3M658,35.3 661,45.9 663.2,56.5 664.2,63.5 664.5,70.6 664.1,81.2 663.3,88.2 661.5,98.8 658.8,109.4 657.7,113.4 654.6,121 651.5,126.4 648.1,130.6 645.4,132.9 643.4,134.1 642.3,134.8 639.2,136 636.2,136.8 633.1,137.2 630,137.3 623.9,136.9 620.8,136.3 617.8,135.3 611.6,132.5 599.3,125.6 590.1,120.7 587.1,118.7 584,116.3 580.9,113 578.5,109.4 577.8,108.1 576.9,105.9 575.7,102.4 574.9,98.8 574.4,95.3 574.1,91.8 573.9,84.7 574.5,70.6 575.2,63.5 576.4,56.5 579,45.9 582.2,35.3M359.6,208.3 366,206.9 369.1,206.6 372.2,206.7 375.2,207.6 376.3,208.3 377.7,211.8 376.5,215.3 374.2,218.9 369.1,224.2 366,227.7 357.2,240 355.3,243.6 354,247.1 350.7,259.4 347.9,268.3 345.2,275.3 341.9,282.4 339.8,285.9 337,289.5 333.7,293 329.6,296.5 324.8,300.1 314,307.1 310.8,309.4 304.8,314.2 296.7,321.2 292.3,324.3 289.3,326.1 284.2,328.3 280.1,329.6 273.9,331.1 267.8,332.2 261.6,332.9 255.5,333.2 252.4,332.9 246.3,331.6 234,327.8 227.9,326.3 221.7,325.4 203.3,323.6 197.2,322.3 194.1,321.2 191,319.5 188.5,317.7 185.6,314.2 184.2,310.6 183.9,307.1 184.2,303.6 184.9,300.1 187.5,289.5 188.2,285.9 188.9,278.9 189.4,264.8 190.3,257.7 191.1,254.2 192.3,250.6 194.1,247.1 200.2,237.5 204.2,233 206.4,231.2 209.4,229 215.4,225.9 218.7,224.9 221.7,224.4 224.8,224.3 227.9,224.5 234,225.8 249.4,230.9 252.4,231.6 255.5,231.8 258.6,231.6 261.6,231.2 264.7,230.4 267.8,229.5 273.9,227 277,226.1 283.1,224.7 304.6,221.4 323,219.5 329.2,218.4 335.3,216.6 350.7,211.1 359.6,208.3M417.1,35.3 420.9,49.4 423.3,56.5 436.6,89.7 442.2,102.4 443.5,105.9 445.3,113 450.6,144.7 452.6,169.4 453.3,183.6 453.3,190.6 452.5,197.7 450.9,204.7 449.8,208.3 448.3,211.8 445.7,215.3 442.8,218.3 439.7,220.3 436.6,221.1 433.6,221.1 430.5,220.2 427.4,218.5 424.3,216.3 418.8,211.8 415.4,208.3 412.9,204.7 411,201.2 409.7,197.7 408.9,194.1 408.8,190.6 409.8,183.6 410,180 409.7,176.5 409,172.7 407.2,165.9 405.9,158.7 404.4,151.8 403.3,144.7 402.6,137.7 401.5,116.5 401.3,113 400.7,109.4 400,105.9 398.3,102.4 396.3,98.8 391.6,91.8 389.9,88.2 388.9,84.7 387.6,74.1 386.9,70.6 382.2,56.5 381.4,52.9 380.8,49.4 379.9,38.8 379.4,35.3M520.6,35.3 519.5,37.3 516.5,38.8 513.4,38.2 510.6,35.3M642.5,35.3 648.5,45.7 650.4,49.4 653.4,56.5 654.6,60.3 655.8,67.1 656.1,70.6 656.1,74.1 655.5,81.2 654.6,86.6 652.2,95.3 648.5,105.6 645.4,111.8 642.3,116.1 639.2,119.1 638,120 636.2,121.2 633.1,122.5 629.4,123.5 627,123.9 623.9,124 620.8,123.8 617.8,123 614.7,121.9 611.6,120.6 605.5,117.2 599,113 594.4,109.4 591,105.9 590.1,104.8 588.6,102.4 587.1,99.2 585.7,95.3 584.8,91.8 584.2,88.2 583.6,81.2 583.8,70.6 584.1,67.1 584.6,63.5 585.4,60 587.1,54.6 590.1,47.5 593.2,42.5 598.5,35.3M326.7,229.4 332.2,229.2 335.3,229.3 338.4,229.8 341.5,231.7 342.4,233 341.7,236.5 340.3,240 339.5,243.6 340,254.2 339.8,257.7 338.9,264.8 337.1,271.8 335.3,276.7 334.4,278.9 332.2,282.8 330,285.9 326.1,290 322.5,293 307.1,303.6 292.3,314.7 289.3,316.8 286.2,318.5 283.1,319.7 280.1,320.5 277,321.1 273.9,321.4 270.9,321.5 264.9,321.2 252.4,319.5 245.4,317.7 235.2,314.2 226.3,310.6 220.2,307.1 216.6,303.6 214.6,300.1 213.4,296.5 212.7,293 210.5,271.8 210.3,268.3 210.4,264.8 210.9,261.2 211.8,257.7 213.4,254.2 216,250.6 218.7,248.3 220.4,247.1 221.7,246.3 224.8,244.9 227.9,244.4 230.9,244.8 234,245.7 246.3,251.5 249.4,252.4 252.4,252.8 255.5,252.6 258.6,251.9 264.7,249.6 283.1,241.1 289.3,238.7 294,236.5 303.5,233 307.7,231.9 313.8,230.7 326.7,229.4M415.2,35.3 418.2,46.2 421.3,55.4 436.6,92.9 440.7,102.4 441.9,105.9 443.7,113 445.3,123.5 447.9,137.7 449,144.7 450.3,162.4 450.6,173 450.5,183.6 450.1,187.1 449.5,190.6 448.7,194.2 446.5,201.2 445.1,204.7 442.8,209.1 440.6,211.8 439.7,212.7 436.6,214.4 433.6,214.8 430.5,213.8 427.4,211.8 423.7,208.3 420.7,204.7 418.3,201.2 416.5,197.7 415.2,194.1 414.6,190.6 413.7,180 413.2,176.5 412.1,171.6 410.3,165.9 407.8,155.3 406.5,148.3 405.4,141.2 405,137.7 403.8,116.5 403,109.4 402.1,105.9 399.8,100.4 394.6,91.8 392.9,88.2 391.9,84.7 390.3,74.1 389.4,70.6 388.3,67.1 385.5,60 384.3,56.5 383.3,52.9 382.7,49.4 381.9,38.8 381.4,35.3M613.7,45.9 614.7,45.3 617.8,44.2 620.8,43.7 623.9,43.9 627,44.9 630,46.6 633.1,49.1 636.2,52.3 639.2,56.5 641.2,60 642.3,62.6 643.6,67.1 644.2,70.6 644.3,74.1 644,77.7 643.5,81.2 642.8,84.7 641.7,88.2 639.2,94.4 636.2,99.8 633.1,103.6 630,106.3 627,108 623.9,108.9 620.8,109 617.8,108.5 614.7,107.3 611.6,105.6 607.6,102.4 604.3,98.8 602.4,96.3 599.8,91.8 598.2,88.2 597.1,84.7 596.4,81.2 596,77.7 595.8,74.1 596,70.6 596.6,67.1 597.8,63.5 599.3,60.4 601.8,56.5 605.5,52.2 608.5,49.3 611.6,47.1 613.7,45.9M304.2,250.6 307.7,249.6 310.8,249.1 313.8,249.2 316.9,249.9 320,251.6 322.6,254.2 324.6,257.7 325.7,261.2 326.1,264.8 326,268.3 325.4,271.8 324.4,275.3 322.8,278.9 320.6,282.4 316.9,286.5 313.3,289.5 308.4,293 298.5,299.7 292.3,303.6 289.3,305.3 286.2,306.7 283.1,307.5 280.1,307.9 277,307.7 273.9,307 270.9,305.7 267.8,303.7 264.1,300.1 261.7,296.5 260.1,293 259.2,289.5 258.9,285.9 259.1,282.4 260,278.9 261.6,275.3 263.8,271.8 266.8,268.3 270.7,264.8 273.9,262.5 277,260.7 280.1,259.2 283.1,257.9 292.3,255.1 304.2,250.6M413.6,35.3 417.5,49.4 420.1,56.5 430.6,81.2 437.8,98.8 440.4,105.9 442,113 443.7,123.5 447,141.2 447.4,144.7 448.5,162.4 448.6,169.4 448.2,180 447.7,183.6 446.9,187.1 445.8,190.5 442.8,197.3 439.7,202.8 436.6,206.1 433.6,207.2 430.5,206.4 427.4,204.2 424.3,200.8 421.3,196.4 420.1,194.1 418.2,189 415.7,176.5 410.9,158.8 408,144.7 407.2,137.7 406.8,127.1 406.2,120 405.4,113 404.8,109.4 404,105.9 402.8,102.4 401.2,98.8 397.4,91.8 395.8,88.2 394.8,84.7 392.8,74.1 391.9,70.6 386.3,56.5 385.3,53 384.7,49.4 383.8,38.8 383.3,35.3M284.9,275.3 286.2,274.7 289.3,273.9 292.3,273.3 295.4,273.1 298.5,273.5 301.6,275.3 301.8,278.9 299.5,282.4 295.2,285.9 292.3,287.3 289.3,288.5 286.2,289.2 283.1,288.2 281.1,285.9 280.1,282.4 281.2,278.9 283.1,276.6 284.9,275.3M411.9,35.3 413.8,42.4 417.1,52.9 419.9,60 430.5,84.1 436.6,99.6 438.8,105.9 439.7,109.4 442,123.5 445.4,141.2 446.2,148.3 446.7,162.4 446.5,173 445.7,180 444.8,183.6 442.8,188.5 439.7,193.1 436.6,196.6 433.6,198.5 430.5,198.3 427.4,196.2 424.4,192.8 423,190.6 421.3,187.6 419.9,183.6 413.9,162.4 412.1,154.8 410.7,148.3 409.6,141.2 409.3,137.7 408.9,127.1 408.2,120 407.3,113 406.7,109.4 404.7,102.4 402.9,97.7 398.7,88.2 397.8,84.7 395.4,74.1 394.4,70.6 393,67.1 389.8,60 387.3,52.9 386.7,49.4 385.9,38.8 385.4,35.3M409.9,35.3 410.8,38.8 412.1,42.4 413.9,49.4 416.5,56.5 421.3,66.8 426,77.7 427.4,80.5 429.1,84.7 430.5,87.5 431.9,91.8 433.6,95.5 436.6,104.4 437.1,105.9 438.5,113 440.8,127.1 442.8,135.5 443.7,141.2 444.8,158.9 444.4,169.4 443.7,176.5 442.8,180.4 439.7,185.5 436.6,188.5 433.6,190.3 430.5,190.3 427.4,188.4 424.3,185.2 421.3,179.3 418.2,169.3 415.1,158.6 412.1,144.3 411.4,137.7 411,127.1 410.3,120 409.2,113 407.8,105.9 406.8,102.4 401.9,88.2 398.2,74.1 395.6,67.1 390.6,56.5 389.5,52.9 389,49.4 388.2,38.8 387.5,35.3M407.3,35.3 410.3,45.9 414.1,56.5 421.3,71.5 422.2,74.1 424.4,78.3 425.4,81.2 427.4,85.2 430.5,92.7 433.6,101.3 435.6,109.4 437.9,123.5 440.3,134.1 441.5,141.2 442.3,151.8 442.4,158.8 441.4,169.4 440.9,173 439.7,177.3 436.6,180.9 433.6,182.7 430.5,182.6 427.4,180.6 424.3,177.2 421.3,169.7 418.2,159.7 415.3,148.3 414.1,141.2 413.7,137.7 413.3,127.1 413,123.5 412.1,116.5 410.1,105.9 408.4,98.8 404.6,84.7 401.3,74.1 398.6,67.1 393.6,56.9 392.4,52.9 391.8,49.4 391,38.8 390.4,35.3M403.4,35.3 404.3,38.8 405.9,43.8 407.5,49.4 410.4,56.5 415.1,65.5 418.2,71.9 427.4,92.9 430.5,100.9 432,105.9 432.8,109.4 435.2,123.5 437.9,137.7 438.6,144.7 438.9,151.8 438.5,158.8 438.1,162.4 437.5,165.9 436.6,169.4 434.2,173 433.6,173.7 430.5,174 427.4,171.5 424.3,166.4 421.3,158.2 418.1,148.3 416.6,141.2 416.2,137.7 415.8,127.1 415,120 413,105.9 410.3,91.8 409.4,88.2 407.2,81.2 402.1,67.1 399,60 396.5,52.9 396,49.4 395.5,38.8 394.9,35.3M407.3,67.1 409,64.8 410.3,67.1 412.1,68.9 415.1,76 416.9,81.2 418.2,83.7 420.2,88.2 421.3,89.9 422.1,91.8 424.3,95.4 427.4,102.3 428.6,105.9 429.4,109.4 430.5,114 433.4,130.6 433.9,134.1 434.5,141.2 434.5,148.3 434.3,151.8 433.6,156.9 432.9,158.8 430.5,162.2 427.4,160.9 424.3,156 421.3,148.8 420.1,144.7 419.3,141.2 418.9,137.7 418.2,127.1 414.3,88.2 413.7,84.7 412.1,82 410.6,77.7 409,74.4 407.8,70.6 407.3,67.1M420.9,113 421.3,110.2 424.3,109.8 427.4,119.3 428.2,123.5 428.7,127.1 429.1,130.6 429.2,134.1 428.8,141.2 427.9,144.7 427.4,146 424.3,144.9 423.2,141.2 420.9,123.5 420.7,116.5 420.9,113"/>
</g>
<g font-family="Liberation Sans, sans-serif" font-size="12" text-anchor="middle" stroke="#000" stroke-width="0.4">
<rect x="184.5" y="104.8" width="20.7" height="75.2" fill="#fff" stroke="none"/><rect x="322.8" y="126.2" width="19.9" height="62" fill="#fff" stroke="none"/>
<rect x="184.7" y="109.3" width="20.3" height="11.0" fill="#fff" stroke="none"/><text x="194.8" y="119.1" textLength="17.7" lengthAdjust="spacingAndGlyphs">−76</text>
<rect x="184.7" y="113.9" width="20.3" height="11.0" fill="#fff" stroke="none"/><text x="194.8" y="123.7" textLength="17.7" lengthAdjust="spacingAndGlyphs">−72</text>
<rect x="184.7" y="118.6" width="20.3" height="11.0" fill="#fff" stroke="none"/><text x="194.8" y="128.4" textLength="17.7" lengthAdjust="spacingAndGlyphs">−68</text>
<rect x="184.7" y="123.3" width="20.3" height="11.0" fill="#fff" stroke="none"/><text x="194.8" y="133.1" textLength="17.7" lengthAdjust="spacingAndGlyphs">−64</text>
<rect x="184.7" y="127.9" width="20.3" height="11.0" fill="#fff" stroke="none"/><text x="194.8" y="137.8" textLength="17.7" lengthAdjust="spacingAndGlyphs">−60</text>
<rect x="184.7" y="132.6" width="20.3" height="11.0" fill="#fff" stroke="none"/><text x="194.8" y="142.4" textLength="17.7" lengthAdjust="spacingAndGlyphs">−56</text>
<rect x="184.7" y="141.3" width="20.3" height="11.0" fill="#fff" stroke="none"/><text x="194.8" y="151.1" textLength="17.7" lengthAdjust="spacingAndGlyphs">−48</text>
<rect x="184.7" y="145.3" width="20.3" height="11.0" fill="#fff" stroke="none"/><text x="194.8" y="155.1" textLength="17.7" lengthAdjust="spacingAndGlyphs">−44</text>
<rect x="184.7" y="149.3" width="20.3" height="11.0" fill="#fff" stroke="none"/><text x="194.8" y="159.1" textLength="17.7" lengthAdjust="spacingAndGlyphs">−40</text>
<rect x="184.7" y="153.3" width="20.3" height="11.0" fill="#fff" stroke="none"/><text x="194.8" y="163.1" textLength="17.7" lengthAdjust="spacingAndGlyphs">−36</text>
<rect x="184.7" y="157.2" width="20.3" height="11.0" fill="#fff" stroke="none"/><text x="194.8" y="167.1" textLength="17.7" lengthAdjust="spacingAndGlyphs">−32</text>
<rect x="184.7" y="161.2" width="20.3" height="11.0" fill="#fff" stroke="none"/><text x="194.8" y="171.0" textLength="17.7" lengthAdjust="spacingAndGlyphs">−28</text>
<rect x="184.7" y="165.2" width="20.3" height="11.0" fill="#fff" stroke="none"/><text x="194.8" y="175.0" textLength="17.7" lengthAdjust="spacingAndGlyphs">−24</text>
<rect x="184.7" y="104.6" width="20.3" height="11.0" fill="#fff" stroke="none"/><text x="194.8" y="114.4" textLength="17.7" lengthAdjust="spacingAndGlyphs">−80</text>
<rect x="184.7" y="137.3" width="20.3" height="11.0" fill="#fff" stroke="none"/><text x="194.8" y="147.1" textLength="17.7" lengthAdjust="spacingAndGlyphs">−52</text>
<rect x="184.7" y="169.2" width="20.3" height="11.0" fill="#fff" stroke="none"/><text x="194.8" y="179.0" textLength="17.7" lengthAdjust="spacingAndGlyphs">−20</text>
<rect x="322.6" y="126.0" width="20.3" height="11.0" fill="#fff" stroke="none"/><text x="332.8" y="135.8" textLength="17.7" lengthAdjust="spacingAndGlyphs">−64</text>
<rect x="322.6" y="129.9" width="20.3" height="11.0" fill="#fff" stroke="none"/><text x="332.8" y="139.7" textLength="17.7" lengthAdjust="spacingAndGlyphs">−60</text>
<rect x="322.6" y="133.8" width="20.3" height="11.0" fill="#fff" stroke="none"/><text x="332.8" y="143.6" textLength="17.7" lengthAdjust="spacingAndGlyphs">−56</text>
<rect x="322.6" y="141.5" width="20.3" height="11.0" fill="#fff" stroke="none"/><text x="332.8" y="151.3" textLength="17.7" lengthAdjust="spacingAndGlyphs">−48</text>
<rect x="322.6" y="145.3" width="20.3" height="11.0" fill="#fff" stroke="none"/><text x="332.8" y="155.1" textLength="17.7" lengthAdjust="spacingAndGlyphs">−44</text>
<rect x="322.6" y="149.2" width="20.3" height="11.0" fill="#fff" stroke="none"/><text x="332.8" y="159.0" textLength="17.7" lengthAdjust="spacingAndGlyphs">−40</text>
<rect x="322.6" y="153.0" width="20.3" height="11.0" fill="#fff" stroke="none"/><text x="332.8" y="162.8" textLength="17.7" lengthAdjust="spacingAndGlyphs">−36</text>
<rect x="322.6" y="156.8" width="20.3" height="11.0" fill="#fff" stroke="none"/><text x="332.8" y="166.6" textLength="17.7" lengthAdjust="spacingAndGlyphs">−32</text>
<rect x="322.6" y="160.6" width="20.3" height="11.0" fill="#fff" stroke="none"/><text x="332.8" y="170.4" textLength="17.7" lengthAdjust="spacingAndGlyphs">−28</text>
<rect x="322.6" y="164.4" width="20.3" height="11.0" fill="#fff" stroke="none"/><text x="332.8" y="174.2" textLength="17.7" lengthAdjust="spacingAndGlyphs">−24</text>
<rect x="322.6" y="168.3" width="20.3" height="11.0" fill="#fff" stroke="none"/><text x="332.8" y="178.1" textLength="17.7" lengthAdjust="spacingAndGlyphs">−20</text>
<rect x="322.6" y="172.1" width="20.3" height="11.0" fill="#fff" stroke="none"/><text x="332.8" y="181.9" textLength="17.7" lengthAdjust="spacingAndGlyphs">−16</text>
<rect x="322.6" y="175.9" width="20.3" height="11.0" fill="#fff" stroke="none"/><text x="332.8" y="185.7" textLength="17.7" lengthAdjust="spacingAndGlyphs">−12</text>
<rect x="322.6" y="137.7" width="20.3" height="11.0" fill="#fff" stroke="none"/><text x="332.8" y="147.5" textLength="17.7" lengthAdjust="spacingAndGlyphs">−52</text>
<rect x="317.7" y="184.8" width="14.6" height="11.0" fill="#fff" stroke="none"/><text x="325.0" y="194.6" textLength="12.0" lengthAdjust="spacingAndGlyphs">−4</text>
<rect x="322.4" y="186.0" width="8.3" height="11.0" fill="#fff" stroke="none"/><text x="326.5" y="195.8" textLength="5.7" lengthAdjust="spacingAndGlyphs">0</text>
<rect x="327.2" y="179.7" width="14.6" height="11.0" fill="#fff" stroke="none"/><text x="334.5" y="189.5" textLength="12.0" lengthAdjust="spacingAndGlyphs">−8</text>
<rect x="320.6" y="194.0" width="8.3" height="11.0" fill="#fff" stroke="none"/><text x="324.7" y="203.8" textLength="5.7" lengthAdjust="spacingAndGlyphs">4</text>
<rect x="313.1" y="200.7" width="8.3" height="11.0" fill="#fff" stroke="none"/><text x="317.2" y="210.5" textLength="5.7" lengthAdjust="spacingAndGlyphs">8</text>
<rect x="253.3" y="82.5" width="20.3" height="11.0" fill="#fff" stroke="none"/><text x="263.5" y="92.3" textLength="17.7" lengthAdjust="spacingAndGlyphs">−48</text>
<rect x="218.0" y="207.0" width="14.0" height="11.0" fill="#fff" stroke="none"/><text x="225.0" y="216.8" textLength="11.4" lengthAdjust="spacingAndGlyphs">12</text>
<rect x="210.5" y="219.5" width="14.0" height="11.0" fill="#fff" stroke="none"/><text x="217.5" y="229.3" textLength="11.4" lengthAdjust="spacingAndGlyphs">16</text>
<rect x="240.5" y="252.0" width="14.0" height="11.0" fill="#fff" stroke="none"/><text x="247.5" y="261.8" textLength="11.4" lengthAdjust="spacingAndGlyphs">20</text>
<rect x="417.5" y="142.5" width="14.0" height="11.0" fill="#fff" stroke="none"/><text x="424.5" y="152.3" textLength="11.4" lengthAdjust="spacingAndGlyphs">52</text>
<rect x="425.0" y="157.5" width="14.0" height="11.0" fill="#fff" stroke="none"/><text x="432.0" y="167.3" textLength="11.4" lengthAdjust="spacingAndGlyphs">48</text>
<rect x="425.0" y="168.5" width="14.0" height="11.0" fill="#fff" stroke="none"/><text x="432.0" y="178.3" textLength="11.4" lengthAdjust="spacingAndGlyphs">44</text>
<rect x="425.0" y="176.5" width="14.0" height="11.0" fill="#fff" stroke="none"/><text x="432.0" y="186.3" textLength="11.4" lengthAdjust="spacingAndGlyphs">40</text>
<rect x="425.0" y="184.5" width="14.0" height="11.0" fill="#fff" stroke="none"/><text x="432.0" y="194.3" textLength="11.4" lengthAdjust="spacingAndGlyphs">36</text>
<rect x="425.0" y="192.5" width="14.0" height="11.0" fill="#fff" stroke="none"/><text x="432.0" y="202.3" textLength="11.4" lengthAdjust="spacingAndGlyphs">32</text>
<rect x="425.0" y="199.5" width="14.0" height="11.0" fill="#fff" stroke="none"/><text x="432.0" y="209.3" textLength="11.4" lengthAdjust="spacingAndGlyphs">28</text>
<rect x="424.0" y="206.5" width="14.0" height="11.0" fill="#fff" stroke="none"/><text x="431.0" y="216.3" textLength="11.4" lengthAdjust="spacingAndGlyphs">24</text>
<rect x="433.0" y="214.5" width="14.0" height="11.0" fill="#fff" stroke="none"/><text x="440.0" y="224.3" textLength="11.4" lengthAdjust="spacingAndGlyphs">20</text>
<rect x="433.0" y="222.5" width="14.0" height="11.0" fill="#fff" stroke="none"/><text x="440.0" y="232.3" textLength="11.4" lengthAdjust="spacingAndGlyphs">16</text>
<rect x="433.0" y="231.0" width="14.0" height="11.0" fill="#fff" stroke="none"/><text x="440.0" y="240.8" textLength="11.4" lengthAdjust="spacingAndGlyphs">12</text>
<rect x="442.9" y="241.5" width="8.3" height="11.0" fill="#fff" stroke="none"/><text x="447.0" y="251.3" textLength="5.7" lengthAdjust="spacingAndGlyphs">8</text>
<rect x="396.9" y="228.5" width="8.3" height="11.0" fill="#fff" stroke="none"/><text x="401.0" y="238.3" textLength="5.7" lengthAdjust="spacingAndGlyphs">4</text>
<rect x="396.9" y="238.5" width="8.3" height="11.0" fill="#fff" stroke="none"/><text x="401.0" y="248.3" textLength="5.7" lengthAdjust="spacingAndGlyphs">0</text>
<rect x="395.7" y="247.5" width="14.6" height="11.0" fill="#fff" stroke="none"/><text x="403.0" y="257.3" textLength="12.0" lengthAdjust="spacingAndGlyphs">−4</text>
<rect x="395.7" y="255.5" width="14.6" height="11.0" fill="#fff" stroke="none"/><text x="403.0" y="265.3" textLength="12.0" lengthAdjust="spacingAndGlyphs">−8</text>
<rect x="391.9" y="264.5" width="20.3" height="11.0" fill="#fff" stroke="none"/><text x="402.0" y="274.3" textLength="17.7" lengthAdjust="spacingAndGlyphs">−12</text>
<rect x="391.9" y="273.5" width="20.3" height="11.0" fill="#fff" stroke="none"/><text x="402.0" y="283.3" textLength="17.7" lengthAdjust="spacingAndGlyphs">−16</text>
<rect x="392.4" y="344.5" width="20.3" height="11.0" fill="#fff" stroke="none"/><text x="402.5" y="354.3" textLength="17.7" lengthAdjust="spacingAndGlyphs">−20</text>
<rect x="478.7" y="142.5" width="14.6" height="11.0" fill="#fff" stroke="none"/><text x="486.0" y="152.3" textLength="12.0" lengthAdjust="spacingAndGlyphs">−8</text>
<rect x="532.7" y="193.0" width="14.6" height="11.0" fill="#fff" stroke="none"/><text x="540.0" y="202.8" textLength="12.0" lengthAdjust="spacingAndGlyphs">−4</text>
<rect x="578.7" y="218.5" width="14.6" height="11.0" fill="#fff" stroke="none"/><text x="586.0" y="228.3" textLength="12.0" lengthAdjust="spacingAndGlyphs">−8</text>
<rect x="532.7" y="284.5" width="14.6" height="11.0" fill="#fff" stroke="none"/><text x="540.0" y="294.3" textLength="12.0" lengthAdjust="spacingAndGlyphs">−4</text>
<rect x="617.0" y="101.0" width="14.0" height="11.0" fill="#fff" stroke="none"/><text x="624.0" y="110.8" textLength="11.4" lengthAdjust="spacingAndGlyphs">24</text>
<rect x="617.0" y="118.5" width="14.0" height="11.0" fill="#fff" stroke="none"/><text x="624.0" y="128.3" textLength="11.4" lengthAdjust="spacingAndGlyphs">20</text>
<rect x="617.0" y="131.0" width="14.0" height="11.0" fill="#fff" stroke="none"/><text x="624.0" y="140.8" textLength="11.4" lengthAdjust="spacingAndGlyphs">16</text>
<rect x="617.0" y="144.5" width="14.0" height="11.0" fill="#fff" stroke="none"/><text x="624.0" y="154.3" textLength="11.4" lengthAdjust="spacingAndGlyphs">12</text>
<rect x="627.4" y="158.0" width="8.3" height="11.0" fill="#fff" stroke="none"/><text x="631.5" y="167.8" textLength="5.7" lengthAdjust="spacingAndGlyphs">8</text>
<rect x="642.4" y="173.5" width="8.3" height="11.0" fill="#fff" stroke="none"/><text x="646.5" y="183.3" textLength="5.7" lengthAdjust="spacingAndGlyphs">4</text>
<rect x="657.9" y="200.5" width="8.3" height="11.0" fill="#fff" stroke="none"/><text x="662.0" y="210.3" textLength="5.7" lengthAdjust="spacingAndGlyphs">0</text>
<rect x="688.9" y="293.5" width="8.3" height="11.0" fill="#fff" stroke="none"/><text x="693.0" y="303.3" textLength="5.7" lengthAdjust="spacingAndGlyphs">0</text>
<rect x="287.0" y="302.0" width="14.0" height="11.0" fill="#fff" stroke="none"/><text x="294.0" y="311.8" textLength="11.4" lengthAdjust="spacingAndGlyphs">24</text>
<rect x="287.0" y="313.5" width="14.0" height="11.0" fill="#fff" stroke="none"/><text x="294.0" y="323.3" textLength="11.4" lengthAdjust="spacingAndGlyphs">20</text>
<rect x="241.0" y="332.5" width="14.0" height="11.0" fill="#fff" stroke="none"/><text x="248.0" y="342.3" textLength="11.4" lengthAdjust="spacingAndGlyphs">16</text>
<rect x="241.0" y="343.8" width="14.0" height="11.0" fill="#fff" stroke="none"/><text x="248.0" y="353.6" textLength="11.4" lengthAdjust="spacingAndGlyphs">12</text>
<rect x="243.8" y="354.5" width="8.3" height="11.0" fill="#fff" stroke="none"/><text x="248.0" y="364.3" textLength="5.7" lengthAdjust="spacingAndGlyphs">8</text>
<rect x="243.8" y="368.0" width="8.3" height="11.0" fill="#fff" stroke="none"/><text x="248.0" y="377.8" textLength="5.7" lengthAdjust="spacingAndGlyphs">4</text>
<rect x="205.8" y="355.5" width="8.3" height="11.0" fill="#fff" stroke="none"/><text x="210.0" y="365.3" textLength="5.7" lengthAdjust="spacingAndGlyphs">0</text>
<rect x="202.7" y="417.0" width="14.6" height="11.0" fill="#fff" stroke="none"/><text x="210.0" y="426.8" textLength="12.0" lengthAdjust="spacingAndGlyphs">−4</text>
<rect x="332.7" y="415.5" width="14.6" height="11.0" fill="#fff" stroke="none"/><text x="340.0" y="425.3" textLength="12.0" lengthAdjust="spacingAndGlyphs">−8</text>
<rect x="465.9" y="379.5" width="8.3" height="11.0" fill="#fff" stroke="none"/><text x="470.0" y="389.3" textLength="5.7" lengthAdjust="spacingAndGlyphs">4</text>
<rect x="465.9" y="397.0" width="8.3" height="11.0" fill="#fff" stroke="none"/><text x="470.0" y="406.8" textLength="5.7" lengthAdjust="spacingAndGlyphs">0</text>
<rect x="580.9" y="403.0" width="8.3" height="11.0" fill="#fff" stroke="none"/><text x="585.0" y="412.8" textLength="5.7" lengthAdjust="spacingAndGlyphs">0</text>
<rect x="613.9" y="357.0" width="20.3" height="11.0" fill="#fff" stroke="none"/><text x="624.0" y="366.8" textLength="17.7" lengthAdjust="spacingAndGlyphs">−12</text>
<rect x="632.7" y="385.5" width="14.6" height="11.0" fill="#fff" stroke="none"/><text x="640.0" y="395.3" textLength="12.0" lengthAdjust="spacingAndGlyphs">−8</text>
<rect x="663.7" y="412.0" width="14.6" height="11.0" fill="#fff" stroke="none"/><text x="671.0" y="421.8" textLength="12.0" lengthAdjust="spacingAndGlyphs">−4</text>
</g>
<circle cx="355.2" cy="228" r="1" fill="#000"/><circle cx="102.6" cy="206" r="1.3" fill="#000"/>
<path fill="#000" d="M102.0,511.5 L132.7,511.5 L163.4,511.5 L194.1,510.7 L224.8,499.2 L255.5,488.0 L286.2,464.0 L316.9,440.0 L347.6,416.0 L378.3,395.5 L409.0,395.5 L439.7,396.0 L470.4,408.5 L501.1,424.5 L531.8,432.0 L562.5,439.0 L593.2,445.0 L623.9,451.5 L654.6,463.0 L685.3,474.0 L716.0,480.5 L716,529.5 L102,529.5 Z"/>
<rect x="102" y="35.3" width="614" height="494.2" fill="none" stroke="#000" stroke-width="1.4"/>
<path stroke="#000" stroke-width="1.4" fill="none" d="M98.3,35.3H102.0M98.3,70.6H102.0M98.3,105.9H102.0M98.3,141.2H102.0M98.3,176.5H102.0M98.3,211.8H102.0M98.3,247.1H102.0M98.3,282.4H102.0M98.3,317.7H102.0M98.3,353.0H102.0M98.3,388.3H102.0M98.3,423.6H102.0M98.3,458.9H102.0M98.3,494.2H102.0M98.3,529.5H102.0M102.0,529.5V533.0M163.4,529.5V533.0M224.8,529.5V533.0M286.2,529.5V533.0M347.6,529.5V533.0M409.0,529.5V533.0M470.4,529.5V533.0M531.8,529.5V533.0M593.2,529.5V533.0M654.6,529.5V533.0M716.0,529.5V533.0"/>
<g font-family="Liberation Sans, sans-serif" font-size="10.3" fill="#000" stroke="#000" stroke-width="0.3">
<text x="96.5" y="39.5" text-anchor="end">300hPa</text>
<text x="96.5" y="74.8" text-anchor="end">350hPa</text>
<text x="96.5" y="110.1" text-anchor="end">400hPa</text>
<text x="96.5" y="145.4" text-anchor="end">450hPa</text>
<text x="96.5" y="180.7" text-anchor="end">500hPa</text>
<text x="96.5" y="216.0" text-anchor="end">650hPa</text>
<text x="96.5" y="251.3" text-anchor="end">600hPa</text>
<text x="96.5" y="286.6" text-anchor="end">650hPa</text>
<text x="96.5" y="321.9" text-anchor="end">700hPa</text>
<text x="96.5" y="357.2" text-anchor="end">750hPa</text>
<text x="96.5" y="392.5" text-anchor="end">800hPa</text>
<text x="96.5" y="427.8" text-anchor="end">850hPa</text>
<text x="96.5" y="463.1" text-anchor="end">900hPa</text>
<text x="96.5" y="498.4" text-anchor="end">950hPa</text>
<text x="96.5" y="533.7" text-anchor="end">1000hPa</text>
<text x="102.0" y="543" text-anchor="middle">70E</text>
<text x="163.4" y="543" text-anchor="middle">71E</text>
<text x="224.8" y="543" text-anchor="middle">72E</text>
<text x="286.2" y="543" text-anchor="middle">73E</text>
<text x="347.6" y="543" text-anchor="middle">74E</text>
<text x="409.0" y="543" text-anchor="middle">75E</text>
<text x="470.4" y="543" text-anchor="middle">76E</text>
<text x="531.8" y="543" text-anchor="middle">77E</text>
<text x="593.2" y="543" text-anchor="middle">78E</text>
<text x="654.6" y="543" text-anchor="middle">79E</text>
<text x="716.0" y="543" text-anchor="middle">80E</text>
</g>
</svg></body></html>
